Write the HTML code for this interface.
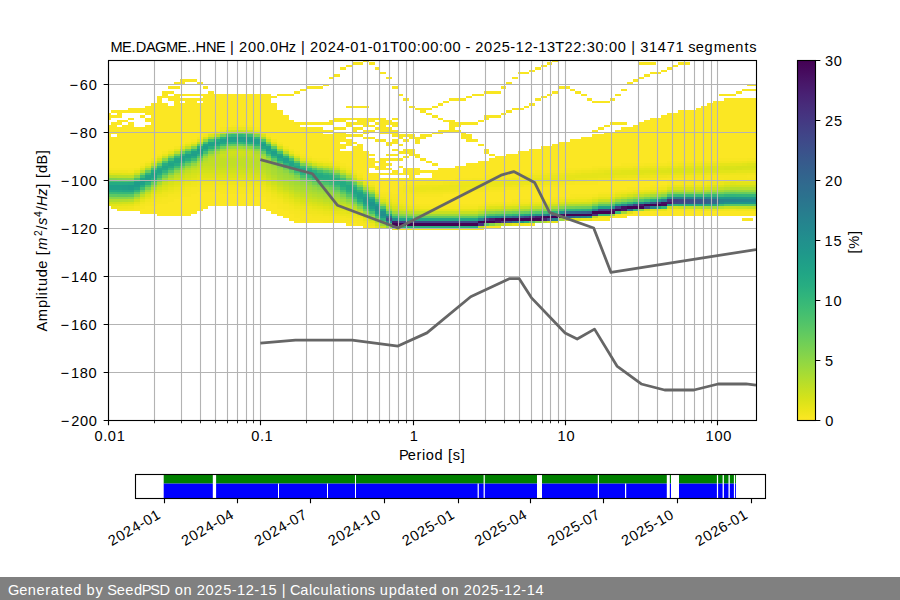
<!DOCTYPE html>
<html><head><meta charset="utf-8"><style>
html,body{margin:0;padding:0;background:#fff;width:900px;height:600px;overflow:hidden}
svg{display:block}
text{font-family:"Liberation Sans", sans-serif;fill:#000}
</style></head><body>
<svg width="900" height="600" viewBox="0 0 900 600">
<g clip-path="url(#axclip)"><g shape-rendering="crispEdges"><path fill="#fbe723" d="M108.00 112.80H110.87V120.00H108.00zM108.00 124.80H110.87V168.00H108.00zM110.87 110.40H116.60V112.80H110.87zM110.87 115.20H116.60V117.60H110.87zM110.87 122.40H116.60V134.40H110.87zM110.87 136.80H116.60V168.00H110.87zM116.60 110.40H122.33V117.60H116.60zM116.60 120.00H122.33V124.80H116.60zM116.60 127.20H122.33V168.00H116.60zM122.33 110.40H128.07V112.80H122.33zM122.33 120.00H128.07V122.40H122.33zM122.33 124.80H128.07V168.00H122.33zM128.07 108.00H133.80V112.80H128.07zM128.07 117.60H133.80V120.00H128.07zM128.07 122.40H133.80V168.00H128.07zM133.80 108.00H139.53V112.80H133.80zM133.80 127.20H139.53V168.00H133.80zM139.53 108.00H145.27V112.80H139.53zM139.53 115.20H145.27V117.60H139.53zM139.53 127.20H145.27V163.20H139.53zM139.53 208.80H145.27V213.60H139.53zM145.27 105.60H151.00V115.20H145.27zM145.27 117.60H151.00V122.40H145.27zM145.27 124.80H151.00V160.80H145.27zM145.27 206.40H151.00V213.60H145.27zM151.00 103.20H156.73V158.40H151.00zM151.00 206.40H156.73V213.60H151.00zM156.73 96.00H162.47V153.60H156.73zM156.73 204.00H162.47V216.00H156.73zM162.47 96.00H168.20V98.40H162.47zM162.47 103.20H168.20V151.20H162.47zM162.47 204.00H168.20V216.00H162.47zM168.20 96.00H173.93V100.80H168.20zM168.20 105.60H173.93V148.80H168.20zM168.20 201.60H173.93V216.00H168.20zM173.93 96.00H179.67V146.40H173.93zM173.93 199.20H179.67V216.00H173.93zM179.67 98.40H185.40V100.80H179.67zM179.67 103.20H185.40V144.00H179.67zM179.67 196.80H185.40V216.00H179.67zM185.40 93.60H191.13V96.00H185.40zM185.40 98.40H191.13V141.60H185.40zM185.40 196.80H191.13V216.00H185.40zM191.13 93.60H196.87V96.00H191.13zM191.13 98.40H196.87V139.20H191.13zM191.13 194.40H196.87V213.60H191.13zM196.87 93.60H202.60V96.00H196.87zM196.87 98.40H202.60V100.80H196.87zM196.87 103.20H202.60V136.80H196.87zM196.87 192.00H202.60V211.20H196.87zM202.60 93.60H208.34V134.40H202.60zM202.60 192.00H208.34V208.80H202.60zM208.34 93.60H214.07V132.00H208.34zM208.34 192.00H214.07V206.40H208.34zM214.07 93.60H219.80V129.60H214.07zM214.07 192.00H219.80V206.40H214.07zM219.80 93.60H225.54V127.20H219.80zM219.80 194.40H225.54V206.40H219.80zM225.54 93.60H231.27V127.20H225.54zM225.54 194.40H231.27V206.40H225.54zM231.27 93.60H237.00V124.80H231.27zM231.27 194.40H237.00V206.40H231.27zM237.00 93.60H242.74V124.80H237.00zM237.00 194.40H242.74V206.40H237.00zM242.74 93.60H248.47V124.80H242.74zM242.74 194.40H248.47V206.40H242.74zM248.47 93.60H254.20V124.80H248.47zM248.47 194.40H254.20V206.40H248.47zM254.20 93.60H259.94V127.20H254.20zM254.20 196.80H259.94V206.40H254.20zM259.94 93.60H265.67V132.00H259.94zM259.94 196.80H265.67V208.80H259.94zM265.67 93.60H271.40V134.40H265.67zM265.67 201.60H271.40V211.20H265.67zM271.40 103.20H277.14V139.20H271.40zM271.40 204.00H277.14V213.60H271.40zM277.14 110.40H282.87V141.60H277.14zM277.14 208.80H282.87V216.00H277.14zM282.87 115.20H288.60V146.40H282.87zM282.87 211.20H288.60V218.40H282.87zM288.60 120.00H294.34V148.80H288.60zM288.60 213.60H294.34V220.80H288.60zM294.34 124.80H300.07V151.20H294.34zM294.34 218.40H300.07V223.20H294.34zM300.07 129.60H305.80V153.60H300.07zM300.07 220.80H305.80V223.20H300.07zM305.80 132.00H311.54V156.00H305.80zM305.80 220.80H311.54V223.20H305.80zM311.54 132.00H317.27V158.40H311.54zM311.54 220.80H317.27V223.20H311.54zM317.27 132.00H323.00V158.40H317.27zM317.27 220.80H323.00V223.20H317.27zM323.00 134.40H328.74V158.40H323.00zM328.74 134.40H334.47V160.80H328.74zM334.47 134.40H340.20V160.80H334.47zM340.20 136.80H345.94V141.60H340.20zM340.20 144.00H345.94V148.80H340.20zM340.20 151.20H345.94V163.20H340.20zM345.94 139.20H351.67V146.40H345.94zM345.94 151.20H351.67V165.60H345.94zM345.94 223.20H351.67V225.60H345.94zM351.67 141.60H357.40V144.00H351.67zM351.67 146.40H357.40V170.40H351.67zM351.67 223.20H357.40V225.60H351.67zM357.40 144.00H363.14V172.80H357.40zM363.14 151.20H368.87V177.60H363.14zM368.87 153.60H374.60V156.00H368.87zM368.87 158.40H374.60V168.00H368.87zM368.87 172.80H374.60V182.40H368.87zM374.60 160.80H380.34V163.20H374.60zM374.60 165.60H380.34V170.40H374.60zM374.60 172.80H380.34V187.20H374.60zM380.34 160.80H386.07V170.40H380.34zM380.34 172.80H386.07V175.20H380.34zM380.34 177.60H386.07V192.00H380.34zM386.07 163.20H391.80V165.60H386.07zM386.07 168.00H391.80V170.40H386.07zM386.07 172.80H391.80V175.20H386.07zM386.07 177.60H391.80V192.00H386.07zM391.80 170.40H397.54V175.20H391.80zM391.80 177.60H397.54V194.40H391.80zM397.54 165.60H403.27V168.00H397.54zM397.54 172.80H403.27V175.20H397.54zM397.54 177.60H403.27V187.20H397.54zM403.27 168.00H409.01V175.20H403.27zM403.27 177.60H409.01V184.80H403.27zM409.01 168.00H414.74V182.40H409.01zM414.74 168.00H420.47V175.20H414.74zM414.74 177.60H420.47V182.40H414.74zM414.74 196.80H420.47V204.00H414.74zM420.47 170.40H426.21V172.80H420.47zM420.47 177.60H426.21V180.00H420.47zM420.47 196.80H426.21V204.00H420.47zM426.21 170.40H431.94V172.80H426.21zM426.21 177.60H431.94V180.00H426.21zM426.21 196.80H431.94V204.00H426.21zM431.94 170.40H437.67V180.00H431.94zM431.94 196.80H437.67V204.00H431.94zM437.67 168.00H443.41V180.00H437.67zM437.67 196.80H443.41V204.00H437.67zM443.41 168.00H449.14V180.00H443.41zM443.41 194.40H449.14V204.00H443.41zM449.14 168.00H454.87V180.00H449.14zM449.14 194.40H454.87V204.00H449.14zM454.87 165.60H460.61V177.60H454.87zM454.87 194.40H460.61V204.00H454.87zM460.61 165.60H466.34V177.60H460.61zM460.61 194.40H466.34V204.00H460.61zM466.34 163.20H472.07V177.60H466.34zM466.34 194.40H472.07V204.00H466.34zM472.07 163.20H477.81V177.60H472.07zM472.07 192.00H477.81V204.00H472.07zM477.81 160.80H483.54V177.60H477.81zM477.81 192.00H483.54V204.00H477.81zM477.81 228.00H483.54V230.40H477.81zM483.54 160.80H489.27V175.20H483.54zM483.54 192.00H489.27V201.60H483.54zM489.27 158.40H495.01V175.20H489.27zM489.27 192.00H495.01V201.60H489.27zM489.27 225.60H495.01V228.00H489.27zM495.01 156.00H500.74V175.20H495.01zM495.01 192.00H500.74V201.60H495.01zM495.01 225.60H500.74V228.00H495.01zM500.74 156.00H506.47V175.20H500.74zM500.74 192.00H506.47V201.60H500.74zM506.47 153.60H512.21V175.20H506.47zM506.47 189.60H512.21V201.60H506.47zM512.21 153.60H517.94V172.80H512.21zM512.21 189.60H517.94V199.20H512.21zM517.94 151.20H523.67V172.80H517.94zM517.94 189.60H523.67V199.20H517.94zM523.67 151.20H529.41V172.80H523.67zM523.67 189.60H529.41V199.20H523.67zM529.41 148.80H535.14V172.80H529.41zM529.41 189.60H535.14V199.20H529.41zM535.14 148.80H540.87V170.40H535.14zM535.14 187.20H540.87V199.20H535.14zM540.87 146.40H546.61V170.40H540.87zM540.87 187.20H546.61V199.20H540.87zM546.61 146.40H552.34V170.40H546.61zM546.61 187.20H552.34V199.20H546.61zM552.34 144.00H558.07V170.40H552.34zM552.34 187.20H558.07V196.80H552.34zM558.07 141.60H563.81V170.40H558.07zM558.07 187.20H563.81V196.80H558.07zM563.81 141.60H569.54V168.00H563.81zM563.81 184.80H569.54V196.80H563.81zM569.54 139.20H575.27V168.00H569.54zM569.54 184.80H575.27V194.40H569.54zM575.27 139.20H581.01V168.00H575.27zM575.27 184.80H581.01V194.40H575.27zM581.01 136.80H586.74V168.00H581.01zM581.01 184.80H586.74V194.40H581.01zM586.74 136.80H592.47V168.00H586.74zM586.74 184.80H592.47V194.40H586.74zM592.47 134.40H598.21V165.60H592.47zM592.47 184.80H598.21V194.40H592.47zM592.47 218.40H598.21V220.80H592.47zM598.21 134.40H603.94V165.60H598.21zM598.21 182.40H603.94V192.00H598.21zM598.21 218.40H603.94V220.80H598.21zM603.94 132.00H609.68V165.60H603.94zM603.94 182.40H609.68V192.00H603.94zM603.94 218.40H609.68V220.80H603.94zM609.68 132.00H615.41V165.60H609.68zM609.68 182.40H615.41V192.00H609.68zM609.68 216.00H615.41V218.40H609.68zM615.41 129.60H621.14V165.60H615.41zM615.41 182.40H621.14V189.60H615.41zM615.41 216.00H621.14V218.40H615.41zM621.14 127.20H626.88V163.20H621.14zM621.14 182.40H626.88V189.60H621.14zM621.14 213.60H626.88V218.40H621.14zM626.88 127.20H632.61V163.20H626.88zM626.88 182.40H632.61V187.20H626.88zM626.88 213.60H632.61V216.00H626.88zM632.61 124.80H638.34V163.20H632.61zM632.61 182.40H638.34V187.20H632.61zM632.61 213.60H638.34V216.00H632.61zM638.34 122.40H644.08V163.20H638.34zM638.34 180.00H644.08V187.20H638.34zM638.34 211.20H644.08V216.00H638.34zM644.08 120.00H649.81V163.20H644.08zM644.08 180.00H649.81V187.20H644.08zM644.08 211.20H649.81V216.00H644.08zM649.81 117.60H655.54V163.20H649.81zM649.81 180.00H655.54V184.80H649.81zM649.81 211.20H655.54V216.00H649.81zM655.54 117.60H661.28V163.20H655.54zM655.54 180.00H661.28V184.80H655.54zM655.54 211.20H661.28V216.00H655.54zM661.28 115.20H667.01V163.20H661.28zM661.28 180.00H667.01V184.80H661.28zM661.28 211.20H667.01V216.00H661.28zM667.01 112.80H672.74V160.80H667.01zM667.01 211.20H672.74V216.00H667.01zM672.74 112.80H678.48V160.80H672.74zM672.74 211.20H678.48V216.00H672.74zM678.48 110.40H684.21V160.80H678.48zM678.48 211.20H684.21V216.00H678.48zM684.21 110.40H689.94V160.80H684.21zM684.21 211.20H689.94V216.00H684.21zM689.94 110.40H695.68V160.80H689.94zM689.94 211.20H695.68V216.00H689.94zM695.68 108.00H701.41V160.80H695.68zM695.68 211.20H701.41V216.00H695.68zM701.41 105.60H707.14V160.80H701.41zM701.41 211.20H707.14V216.00H701.41zM707.14 103.20H712.88V160.80H707.14zM707.14 211.20H712.88V216.00H707.14zM712.88 100.80H718.61V160.80H712.88zM712.88 211.20H718.61V216.00H712.88zM718.61 100.80H724.34V158.40H718.61zM718.61 211.20H724.34V216.00H718.61zM724.34 98.40H730.08V158.40H724.34zM724.34 211.20H730.08V216.00H724.34zM730.08 98.40H735.81V158.40H730.08zM730.08 211.20H735.81V216.00H730.08zM735.81 98.40H741.54V158.40H735.81zM735.81 211.20H741.54V216.00H735.81zM741.54 98.40H747.28V158.40H741.54zM741.54 211.20H747.28V216.00H741.54zM747.28 98.40H753.01V158.40H747.28zM747.28 211.20H753.01V216.00H747.28zM753.01 98.40H756.00V158.40H753.01zM753.01 211.20H756.00V216.00H753.01z"/><path fill="#f8e621" d="M108.00 168.00H110.87V170.40H108.00zM110.87 168.00H116.60V170.40H110.87zM116.60 168.00H122.33V170.40H116.60zM122.33 168.00H128.07V170.40H122.33zM128.07 168.00H133.80V170.40H128.07zM133.80 208.80H139.53V211.20H133.80zM139.53 163.20H145.27V165.60H139.53zM139.53 206.40H145.27V208.80H139.53zM145.27 160.80H151.00V163.20H145.27zM145.27 204.00H151.00V206.40H145.27zM151.00 201.60H156.73V206.40H151.00zM156.73 153.60H162.47V156.00H156.73zM156.73 201.60H162.47V204.00H156.73zM162.47 91.20H168.20V96.00H162.47zM162.47 199.20H168.20V204.00H162.47zM168.20 86.40H173.93V88.80H168.20zM168.20 91.20H173.93V93.60H168.20zM168.20 196.80H173.93V201.60H168.20zM173.93 81.60H179.67V84.00H173.93zM173.93 86.40H179.67V88.80H173.93zM173.93 93.60H179.67V96.00H173.93zM173.93 196.80H179.67V199.20H173.93zM179.67 79.20H185.40V84.00H179.67zM179.67 93.60H185.40V96.00H179.67zM179.67 194.40H185.40V196.80H179.67zM185.40 79.20H191.13V81.60H185.40zM185.40 192.00H191.13V196.80H185.40zM191.13 79.20H196.87V81.60H191.13zM191.13 139.20H196.87V141.60H191.13zM191.13 189.60H196.87V194.40H191.13zM196.87 81.60H202.60V84.00H196.87zM196.87 189.60H202.60V192.00H196.87zM202.60 86.40H208.34V88.80H202.60zM202.60 189.60H208.34V192.00H202.60zM208.34 91.20H214.07V93.60H208.34zM208.34 189.60H214.07V192.00H208.34zM214.07 129.60H219.80V132.00H214.07zM214.07 189.60H219.80V192.00H214.07zM219.80 127.20H225.54V129.60H219.80zM219.80 189.60H225.54V194.40H219.80zM225.54 189.60H231.27V194.40H225.54zM231.27 124.80H237.00V127.20H231.27zM231.27 189.60H237.00V194.40H231.27zM237.00 124.80H242.74V127.20H237.00zM237.00 189.60H242.74V194.40H237.00zM242.74 124.80H248.47V127.20H242.74zM242.74 189.60H248.47V194.40H242.74zM248.47 124.80H254.20V127.20H248.47zM248.47 192.00H254.20V194.40H248.47zM254.20 127.20H259.94V129.60H254.20zM254.20 192.00H259.94V196.80H254.20zM259.94 194.40H265.67V196.80H259.94zM265.67 134.40H271.40V136.80H265.67zM265.67 196.80H271.40V201.60H265.67zM271.40 96.00H277.14V98.40H271.40zM271.40 201.60H277.14V204.00H271.40zM277.14 93.60H282.87V96.00H277.14zM277.14 141.60H282.87V144.00H277.14zM277.14 204.00H282.87V208.80H277.14zM282.87 93.60H288.60V96.00H282.87zM282.87 208.80H288.60V211.20H282.87zM288.60 93.60H294.34V96.00H288.60zM288.60 211.20H294.34V213.60H288.60zM294.34 91.20H300.07V93.60H294.34zM294.34 122.40H300.07V124.80H294.34zM294.34 151.20H300.07V153.60H294.34zM294.34 213.60H300.07V218.40H294.34zM300.07 88.80H305.80V91.20H300.07zM300.07 122.40H305.80V124.80H300.07zM300.07 127.20H305.80V129.60H300.07zM300.07 153.60H305.80V156.00H300.07zM300.07 216.00H305.80V220.80H300.07zM305.80 86.40H311.54V88.80H305.80zM305.80 122.40H311.54V124.80H305.80zM305.80 127.20H311.54V132.00H305.80zM305.80 156.00H311.54V158.40H305.80zM305.80 216.00H311.54V220.80H305.80zM311.54 86.40H317.27V88.80H311.54zM311.54 122.40H317.27V124.80H311.54zM311.54 127.20H317.27V132.00H311.54zM311.54 218.40H317.27V220.80H311.54zM317.27 86.40H323.00V88.80H317.27zM317.27 122.40H323.00V124.80H317.27zM317.27 127.20H323.00V132.00H317.27zM317.27 158.40H323.00V160.80H317.27zM317.27 218.40H323.00V220.80H317.27zM323.00 84.00H328.74V86.40H323.00zM323.00 122.40H328.74V124.80H323.00zM323.00 129.60H328.74V132.00H323.00zM323.00 158.40H328.74V160.80H323.00zM323.00 218.40H328.74V223.20H323.00zM328.74 76.80H334.47V79.20H328.74zM328.74 120.00H334.47V124.80H328.74zM328.74 129.60H334.47V132.00H328.74zM328.74 220.80H334.47V223.20H328.74zM334.47 74.40H340.20V76.80H334.47zM334.47 117.60H340.20V122.40H334.47zM334.47 127.20H340.20V129.60H334.47zM334.47 132.00H340.20V134.40H334.47zM334.47 160.80H340.20V163.20H334.47zM334.47 220.80H340.20V223.20H334.47zM340.20 67.20H345.94V69.60H340.20zM340.20 117.60H345.94V122.40H340.20zM340.20 127.20H345.94V129.60H340.20zM340.20 132.00H345.94V136.80H340.20zM340.20 163.20H345.94V165.60H340.20zM340.20 220.80H345.94V223.20H340.20zM345.94 64.80H351.67V67.20H345.94zM345.94 105.60H351.67V108.00H345.94zM345.94 117.60H351.67V120.00H345.94zM345.94 122.40H351.67V127.20H345.94zM345.94 134.40H351.67V136.80H345.94zM345.94 165.60H351.67V168.00H345.94zM345.94 220.80H351.67V223.20H345.94zM351.67 62.40H357.40V64.80H351.67zM351.67 105.60H357.40V108.00H351.67zM351.67 117.60H357.40V120.00H351.67zM351.67 122.40H357.40V124.80H351.67zM351.67 127.20H357.40V132.00H351.67zM351.67 134.40H357.40V136.80H351.67zM351.67 220.80H357.40V223.20H351.67zM357.40 62.40H363.14V64.80H357.40zM357.40 105.60H363.14V108.00H357.40zM357.40 117.60H363.14V124.80H357.40zM357.40 127.20H363.14V129.60H357.40zM357.40 134.40H363.14V136.80H357.40zM357.40 172.80H363.14V175.20H357.40zM357.40 223.20H363.14V225.60H357.40zM363.14 60.00H368.87V62.40H363.14zM363.14 105.60H368.87V108.00H363.14zM363.14 117.60H368.87V127.20H363.14zM363.14 129.60H368.87V134.40H363.14zM363.14 136.80H368.87V139.20H363.14zM363.14 177.60H368.87V180.00H363.14zM363.14 225.60H368.87V228.00H363.14zM368.87 62.40H374.60V64.80H368.87zM368.87 117.60H374.60V122.40H368.87zM368.87 124.80H374.60V127.20H368.87zM368.87 129.60H374.60V132.00H368.87zM368.87 136.80H374.60V139.20H368.87zM374.60 67.20H380.34V69.60H374.60zM374.60 117.60H380.34V120.00H374.60zM374.60 122.40H380.34V124.80H374.60zM374.60 127.20H380.34V129.60H374.60zM374.60 139.20H380.34V141.60H374.60zM374.60 187.20H380.34V189.60H374.60zM380.34 72.00H386.07V74.40H380.34zM380.34 117.60H386.07V134.40H380.34zM380.34 139.20H386.07V141.60H380.34zM380.34 158.40H386.07V160.80H380.34zM380.34 192.00H386.07V194.40H380.34zM386.07 76.80H391.80V79.20H386.07zM386.07 120.00H391.80V124.80H386.07zM386.07 127.20H391.80V134.40H386.07zM386.07 141.60H391.80V146.40H386.07zM386.07 153.60H391.80V156.00H386.07zM386.07 158.40H391.80V160.80H386.07zM386.07 192.00H391.80V194.40H386.07zM391.80 86.40H397.54V88.80H391.80zM391.80 117.60H397.54V120.00H391.80zM391.80 122.40H397.54V127.20H391.80zM391.80 129.60H397.54V136.80H391.80zM391.80 139.20H397.54V144.00H391.80zM391.80 148.80H397.54V151.20H391.80zM391.80 153.60H397.54V156.00H391.80zM391.80 158.40H397.54V160.80H391.80zM391.80 194.40H397.54V196.80H391.80zM397.54 93.60H403.27V96.00H397.54zM397.54 134.40H403.27V139.20H397.54zM397.54 144.00H403.27V146.40H397.54zM397.54 151.20H403.27V153.60H397.54zM397.54 158.40H403.27V160.80H397.54zM397.54 187.20H403.27V199.20H397.54zM403.27 98.40H409.01V100.80H403.27zM403.27 134.40H409.01V136.80H403.27zM403.27 139.20H409.01V141.60H403.27zM403.27 148.80H409.01V153.60H403.27zM403.27 156.00H409.01V158.40H403.27zM403.27 194.40H409.01V201.60H403.27zM409.01 105.60H414.74V108.00H409.01zM409.01 134.40H414.74V139.20H409.01zM409.01 148.80H414.74V156.00H409.01zM409.01 182.40H414.74V184.80H409.01zM409.01 194.40H414.74V204.00H409.01zM414.74 108.00H420.47V110.40H414.74zM414.74 136.80H420.47V144.00H414.74zM414.74 153.60H420.47V158.40H414.74zM414.74 194.40H420.47V196.80H414.74zM420.47 108.00H426.21V112.80H420.47zM420.47 134.40H426.21V139.20H420.47zM420.47 158.40H426.21V160.80H420.47zM420.47 180.00H426.21V182.40H420.47zM420.47 194.40H426.21V196.80H420.47zM420.47 204.00H426.21V206.40H420.47zM426.21 108.00H431.94V110.40H426.21zM426.21 112.80H431.94V115.20H426.21zM426.21 134.40H431.94V136.80H426.21zM426.21 160.80H431.94V163.20H426.21zM426.21 180.00H431.94V182.40H426.21zM426.21 194.40H431.94V196.80H426.21zM426.21 204.00H431.94V206.40H426.21zM431.94 105.60H437.67V108.00H431.94zM431.94 115.20H437.67V117.60H431.94zM431.94 132.00H437.67V134.40H431.94zM431.94 163.20H437.67V165.60H431.94zM431.94 180.00H437.67V182.40H431.94zM431.94 194.40H437.67V196.80H431.94zM431.94 204.00H437.67V206.40H431.94zM437.67 103.20H443.41V105.60H437.67zM437.67 117.60H443.41V120.00H437.67zM437.67 129.60H443.41V134.40H437.67zM437.67 180.00H443.41V182.40H437.67zM437.67 194.40H443.41V196.80H437.67zM437.67 204.00H443.41V206.40H437.67zM443.41 100.80H449.14V103.20H443.41zM443.41 120.00H449.14V122.40H443.41zM443.41 129.60H449.14V132.00H443.41zM443.41 204.00H449.14V206.40H443.41zM449.14 98.40H454.87V100.80H449.14zM449.14 120.00H454.87V132.00H449.14zM449.14 204.00H454.87V206.40H449.14zM454.87 98.40H460.61V100.80H454.87zM454.87 122.40H460.61V127.20H454.87zM454.87 129.60H460.61V132.00H454.87zM454.87 177.60H460.61V180.00H454.87zM454.87 192.00H460.61V194.40H454.87zM454.87 204.00H460.61V206.40H454.87zM460.61 98.40H466.34V100.80H460.61zM460.61 122.40H466.34V124.80H460.61zM460.61 132.00H466.34V139.20H460.61zM460.61 177.60H466.34V180.00H460.61zM460.61 192.00H466.34V194.40H460.61zM460.61 204.00H466.34V206.40H460.61zM466.34 96.00H472.07V98.40H466.34zM466.34 122.40H472.07V124.80H466.34zM466.34 134.40H472.07V141.60H466.34zM466.34 177.60H472.07V180.00H466.34zM466.34 192.00H472.07V194.40H466.34zM466.34 204.00H472.07V206.40H466.34zM472.07 93.60H477.81V96.00H472.07zM472.07 122.40H477.81V124.80H472.07zM472.07 139.20H477.81V141.60H472.07zM472.07 204.00H477.81V206.40H472.07zM477.81 93.60H483.54V96.00H477.81zM477.81 120.00H483.54V122.40H477.81zM477.81 144.00H483.54V146.40H477.81zM483.54 91.20H489.27V93.60H483.54zM483.54 115.20H489.27V120.00H483.54zM483.54 148.80H489.27V153.60H483.54zM483.54 175.20H489.27V177.60H483.54zM483.54 189.60H489.27V192.00H483.54zM483.54 201.60H489.27V204.00H483.54zM483.54 225.60H489.27V228.00H483.54zM489.27 91.20H495.01V93.60H489.27zM489.27 115.20H495.01V117.60H489.27zM489.27 153.60H495.01V156.00H489.27zM489.27 175.20H495.01V177.60H489.27zM489.27 189.60H495.01V192.00H489.27zM489.27 201.60H495.01V204.00H489.27zM495.01 91.20H500.74V93.60H495.01zM495.01 115.20H500.74V117.60H495.01zM495.01 175.20H500.74V177.60H495.01zM495.01 189.60H500.74V192.00H495.01zM500.74 86.40H506.47V88.80H500.74zM500.74 112.80H506.47V115.20H500.74zM500.74 189.60H506.47V192.00H500.74zM506.47 81.60H512.21V84.00H506.47zM506.47 110.40H512.21V112.80H506.47zM512.21 76.80H517.94V79.20H512.21zM512.21 108.00H517.94V110.40H512.21zM512.21 172.80H517.94V175.20H512.21zM512.21 199.20H517.94V201.60H512.21zM517.94 72.00H523.67V74.40H517.94zM517.94 108.00H523.67V110.40H517.94zM517.94 172.80H523.67V175.20H517.94zM517.94 187.20H523.67V189.60H517.94zM517.94 199.20H523.67V201.60H517.94zM523.67 72.00H529.41V74.40H523.67zM523.67 105.60H529.41V108.00H523.67zM523.67 172.80H529.41V175.20H523.67zM523.67 187.20H529.41V189.60H523.67zM523.67 199.20H529.41V201.60H523.67zM529.41 69.60H535.14V72.00H529.41zM529.41 103.20H535.14V105.60H529.41zM529.41 187.20H535.14V189.60H529.41zM529.41 199.20H535.14V201.60H529.41zM529.41 223.20H535.14V225.60H529.41zM535.14 67.20H540.87V69.60H535.14zM535.14 98.40H540.87V100.80H535.14zM535.14 170.40H540.87V172.80H535.14zM535.14 199.20H540.87V201.60H535.14zM540.87 64.80H546.61V67.20H540.87zM540.87 96.00H546.61V98.40H540.87zM540.87 170.40H546.61V172.80H540.87zM546.61 62.40H552.34V64.80H546.61zM546.61 93.60H552.34V96.00H546.61zM546.61 170.40H552.34V172.80H546.61zM546.61 184.80H552.34V187.20H546.61zM552.34 60.00H558.07V62.40H552.34zM552.34 91.20H558.07V93.60H552.34zM552.34 184.80H558.07V187.20H552.34zM552.34 196.80H558.07V199.20H552.34zM558.07 86.40H563.81V88.80H558.07zM558.07 184.80H563.81V187.20H558.07zM563.81 86.40H569.54V88.80H563.81zM563.81 168.00H569.54V170.40H563.81zM569.54 88.80H575.27V91.20H569.54zM569.54 168.00H575.27V170.40H569.54zM569.54 194.40H575.27V196.80H569.54zM575.27 91.20H581.01V93.60H575.27zM575.27 168.00H581.01V170.40H575.27zM575.27 182.40H581.01V184.80H575.27zM575.27 194.40H581.01V196.80H575.27zM581.01 93.60H586.74V96.00H581.01zM581.01 182.40H586.74V184.80H581.01zM581.01 194.40H586.74V196.80H581.01zM586.74 98.40H592.47V100.80H586.74zM586.74 182.40H592.47V184.80H586.74zM586.74 194.40H592.47V196.80H586.74zM592.47 100.80H598.21V103.20H592.47zM592.47 129.60H598.21V132.00H592.47zM592.47 165.60H598.21V168.00H592.47zM592.47 182.40H598.21V184.80H592.47zM598.21 100.80H603.94V103.20H598.21zM598.21 127.20H603.94V129.60H598.21zM598.21 165.60H603.94V168.00H598.21zM598.21 192.00H603.94V194.40H598.21zM603.94 100.80H609.68V103.20H603.94zM603.94 124.80H609.68V127.20H603.94zM603.94 165.60H609.68V168.00H603.94zM603.94 192.00H609.68V194.40H603.94zM609.68 98.40H615.41V100.80H609.68zM609.68 122.40H615.41V124.80H609.68zM609.68 180.00H615.41V182.40H609.68zM609.68 192.00H615.41V194.40H609.68zM615.41 93.60H621.14V96.00H615.41zM615.41 122.40H621.14V124.80H615.41zM615.41 180.00H621.14V182.40H615.41zM615.41 189.60H621.14V192.00H615.41zM621.14 88.80H626.88V91.20H621.14zM621.14 122.40H626.88V124.80H621.14zM621.14 163.20H626.88V165.60H621.14zM621.14 180.00H626.88V182.40H621.14zM626.88 81.60H632.61V84.00H626.88zM626.88 163.20H632.61V165.60H626.88zM626.88 180.00H632.61V182.40H626.88zM626.88 187.20H632.61V189.60H626.88zM632.61 79.20H638.34V81.60H632.61zM632.61 163.20H638.34V165.60H632.61zM632.61 180.00H638.34V182.40H632.61zM632.61 187.20H638.34V189.60H632.61zM638.34 62.40H644.08V64.80H638.34zM638.34 76.80H644.08V79.20H638.34zM638.34 163.20H644.08V165.60H638.34zM638.34 187.20H644.08V189.60H638.34zM644.08 62.40H649.81V64.80H644.08zM644.08 74.40H649.81V76.80H644.08zM649.81 62.40H655.54V64.80H649.81zM649.81 72.00H655.54V74.40H649.81zM649.81 184.80H655.54V187.20H649.81zM655.54 72.00H661.28V74.40H655.54zM655.54 184.80H661.28V187.20H655.54zM661.28 69.60H667.01V72.00H661.28zM661.28 177.60H667.01V180.00H661.28zM667.01 67.20H672.74V69.60H667.01zM667.01 160.80H672.74V163.20H667.01zM667.01 177.60H672.74V182.40H667.01zM667.01 208.80H672.74V211.20H667.01zM672.74 64.80H678.48V67.20H672.74zM672.74 160.80H678.48V163.20H672.74zM672.74 177.60H678.48V182.40H672.74zM672.74 208.80H678.48V211.20H672.74zM678.48 62.40H684.21V64.80H678.48zM678.48 160.80H684.21V163.20H678.48zM678.48 177.60H684.21V182.40H678.48zM678.48 208.80H684.21V211.20H678.48zM684.21 62.40H689.94V64.80H684.21zM684.21 160.80H689.94V163.20H684.21zM684.21 177.60H689.94V182.40H684.21zM689.94 160.80H695.68V163.20H689.94zM689.94 177.60H695.68V182.40H689.94zM695.68 177.60H701.41V182.40H695.68zM701.41 177.60H707.14V182.40H701.41zM707.14 177.60H712.88V180.00H707.14zM712.88 177.60H718.61V180.00H712.88zM718.61 93.60H724.34V96.00H718.61zM718.61 158.40H724.34V160.80H718.61zM724.34 93.60H730.08V96.00H724.34zM724.34 158.40H730.08V160.80H724.34zM730.08 93.60H735.81V96.00H730.08zM730.08 158.40H735.81V160.80H730.08zM735.81 91.20H741.54V93.60H735.81zM735.81 158.40H741.54V160.80H735.81zM741.54 88.80H747.28V91.20H741.54zM741.54 158.40H747.28V160.80H741.54zM741.54 218.40H747.28V220.80H741.54zM747.28 84.00H753.01V86.40H747.28zM747.28 88.80H753.01V91.20H747.28zM747.28 218.40H753.01V220.80H747.28zM753.01 84.00H756.00V86.40H753.01zM753.01 88.80H756.00V91.20H753.01z"/><path fill="#efe51c" d="M108.00 170.40H110.87V172.80H108.00zM116.60 206.40H122.33V208.80H116.60zM122.33 206.40H128.07V208.80H122.33zM133.80 204.00H139.53V206.40H133.80zM151.00 196.80H156.73V199.20H151.00zM156.73 156.00H162.47V158.40H156.73zM156.73 194.40H162.47V196.80H156.73zM162.47 192.00H168.20V194.40H162.47zM179.67 187.20H185.40V189.60H179.67zM185.40 184.80H191.13V187.20H185.40zM191.13 182.40H196.87V184.80H191.13zM219.80 129.60H225.54V132.00H219.80zM219.80 182.40H225.54V184.80H219.80zM225.54 182.40H231.27V184.80H225.54zM231.27 127.20H237.00V129.60H231.27zM231.27 182.40H237.00V184.80H231.27zM237.00 182.40H242.74V184.80H237.00zM242.74 182.40H248.47V184.80H242.74zM248.47 127.20H254.20V129.60H248.47zM265.67 189.60H271.40V192.00H265.67zM277.14 144.00H282.87V146.40H277.14zM277.14 196.80H282.87V199.20H277.14zM294.34 206.40H300.07V208.80H294.34zM305.80 158.40H311.54V160.80H305.80zM305.80 208.80H311.54V211.20H305.80zM317.27 211.20H323.00V213.60H317.27zM328.74 213.60H334.47V216.00H328.74zM334.47 213.60H340.20V216.00H334.47zM351.67 172.80H357.40V175.20H351.67zM368.87 184.80H374.60V187.20H368.87zM391.80 201.60H397.54V204.00H391.80zM414.74 189.60H420.47V192.00H414.74zM420.47 184.80H426.21V187.20H420.47zM426.21 184.80H431.94V187.20H426.21zM426.21 189.60H431.94V192.00H426.21zM431.94 184.80H437.67V187.20H431.94zM431.94 189.60H437.67V192.00H431.94zM437.67 189.60H443.41V192.00H437.67zM443.41 189.60H449.14V192.00H443.41zM449.14 182.40H454.87V184.80H449.14zM454.87 182.40H460.61V184.80H454.87zM466.34 187.20H472.07V189.60H466.34zM472.07 187.20H477.81V189.60H472.07zM477.81 180.00H483.54V182.40H477.81zM483.54 180.00H489.27V182.40H483.54zM489.27 204.00H495.01V206.40H489.27zM495.01 204.00H500.74V206.40H495.01zM500.74 184.80H506.47V187.20H500.74zM506.47 177.60H512.21V180.00H506.47zM506.47 184.80H512.21V187.20H506.47zM517.94 223.20H523.67V225.60H517.94zM529.41 175.20H535.14V177.60H529.41zM529.41 182.40H535.14V184.80H529.41zM535.14 175.20H540.87V177.60H535.14zM535.14 182.40H540.87V184.80H535.14zM535.14 201.60H540.87V204.00H535.14zM540.87 201.60H546.61V204.00H540.87zM558.07 172.80H563.81V175.20H558.07zM558.07 199.20H563.81V201.60H558.07zM563.81 180.00H569.54V182.40H563.81zM569.54 180.00H575.27V182.40H569.54zM581.01 170.40H586.74V172.80H581.01zM586.74 170.40H592.47V172.80H586.74zM598.21 177.60H603.94V180.00H598.21zM603.94 177.60H609.68V180.00H603.94zM609.68 168.00H615.41V170.40H609.68zM609.68 194.40H615.41V196.80H609.68zM621.14 192.00H626.88V194.40H621.14zM638.34 189.60H644.08V192.00H638.34zM644.08 165.60H649.81V168.00H644.08zM649.81 165.60H655.54V168.00H649.81zM649.81 175.20H655.54V177.60H649.81zM655.54 175.20H661.28V177.60H655.54zM661.28 175.20H667.01V177.60H661.28zM661.28 187.20H667.01V189.60H661.28zM667.01 184.80H672.74V187.20H667.01zM689.94 163.20H695.68V165.60H689.94zM695.68 163.20H701.41V165.60H695.68zM707.14 208.80H712.88V211.20H707.14zM712.88 182.40H718.61V184.80H712.88zM718.61 208.80H724.34V211.20H718.61zM724.34 180.00H730.08V182.40H724.34zM730.08 172.80H735.81V175.20H730.08zM735.81 172.80H741.54V175.20H735.81zM741.54 160.80H747.28V163.20H741.54zM741.54 172.80H747.28V175.20H741.54zM753.01 208.80H756.00V211.20H753.01z"/><path fill="#dde318" d="M108.00 172.80H110.87V175.20H108.00zM139.53 168.00H145.27V170.40H139.53zM179.67 180.00H185.40V182.40H179.67zM185.40 177.60H191.13V180.00H185.40zM225.54 175.20H231.27V177.60H225.54zM231.27 175.20H237.00V177.60H231.27zM237.00 175.20H242.74V177.60H237.00zM242.74 175.20H248.47V177.60H242.74zM294.34 199.20H300.07V201.60H294.34zM300.07 201.60H305.80V204.00H300.07zM311.54 204.00H317.27V206.40H311.54zM317.27 163.20H323.00V165.60H317.27zM323.00 206.40H328.74V208.80H323.00zM340.20 208.80H345.94V211.20H340.20zM351.67 211.20H357.40V213.60H351.67zM368.87 187.20H374.60V189.60H368.87zM380.34 199.20H386.07V201.60H380.34zM409.01 208.80H414.74V211.20H409.01zM495.01 206.40H500.74V208.80H495.01zM558.07 201.60H563.81V204.00H558.07zM609.68 196.80H615.41V199.20H609.68zM621.14 194.40H626.88V196.80H621.14zM638.34 192.00H644.08V194.40H638.34zM661.28 170.40H667.01V172.80H661.28zM661.28 189.60H667.01V192.00H661.28zM667.01 170.40H672.74V172.80H667.01zM672.74 170.40H678.48V172.80H672.74zM678.48 168.00H684.21V172.80H678.48zM684.21 168.00H689.94V172.80H684.21zM689.94 168.00H695.68V170.40H689.94zM695.68 187.20H701.41V189.60H695.68zM712.88 165.60H718.61V168.00H712.88zM718.61 165.60H724.34V168.00H718.61zM753.01 163.20H756.00V165.60H753.01z"/><path fill="#b8de29" d="M108.00 175.20H110.87V177.60H108.00zM162.47 180.00H168.20V182.40H162.47zM208.34 156.00H214.07V158.40H208.34zM254.20 160.80H259.94V163.20H254.20zM282.87 151.20H288.60V153.60H282.87zM294.34 189.60H300.07V192.00H294.34zM328.74 199.20H334.47V201.60H328.74zM351.67 206.40H357.40V208.80H351.67zM363.14 213.60H368.87V216.00H363.14zM403.27 211.20H409.01V213.60H403.27zM540.87 206.40H546.61V208.80H540.87zM695.68 206.40H701.41V208.80H695.68zM701.41 189.60H707.14V192.00H701.41zM741.54 187.20H747.28V189.60H741.54zM747.28 187.20H753.01V189.60H747.28zM753.01 187.20H756.00V189.60H753.01z"/><path fill="#7fd34e" d="M108.00 177.60H110.87V180.00H108.00zM242.74 132.00H248.47V134.40H242.74zM254.20 134.40H259.94V136.80H254.20zM294.34 175.20H300.07V177.60H294.34zM357.40 184.80H363.14V187.20H357.40zM374.60 218.40H380.34V220.80H374.60zM489.27 223.20H495.01V225.60H489.27zM500.74 211.20H506.47V213.60H500.74z"/><path fill="#44bf70" d="M108.00 180.00H110.87V182.40H108.00zM185.40 160.80H191.13V163.20H185.40zM202.60 151.20H208.34V153.60H202.60zM288.60 168.00H294.34V170.40H288.60zM540.87 211.20H546.61V213.60H540.87z"/><path fill="#25ab82" d="M108.00 182.40H110.87V184.80H108.00zM110.87 182.40H116.60V184.80H110.87zM110.87 189.60H116.60V192.00H110.87zM122.33 182.40H128.07V184.80H122.33zM168.20 165.60H173.93V168.00H168.20zM214.07 139.20H219.80V141.60H214.07zM214.07 144.00H219.80V146.40H214.07zM294.34 168.00H300.07V170.40H294.34zM311.54 175.20H317.27V177.60H311.54zM340.20 182.40H345.94V184.80H340.20zM351.67 187.20H357.40V189.60H351.67zM701.41 204.00H707.14V206.40H701.41zM707.14 204.00H712.88V206.40H707.14zM712.88 204.00H718.61V206.40H712.88z"/><path fill="#1fa088" d="M108.00 184.80H110.87V187.20H108.00zM110.87 184.80H116.60V187.20H110.87zM139.53 182.40H145.27V184.80H139.53zM202.60 146.40H208.34V148.80H202.60zM214.07 141.60H219.80V144.00H214.07zM248.47 136.80H254.20V139.20H248.47zM357.40 194.40H363.14V196.80H357.40zM368.87 199.20H374.60V201.60H368.87z"/><path fill="#1fa187" d="M108.00 187.20H110.87V189.60H108.00zM110.87 187.20H116.60V189.60H110.87zM151.00 172.80H156.73V175.20H151.00zM185.40 153.60H191.13V156.00H185.40zM225.54 136.80H231.27V141.60H225.54zM231.27 139.20H237.00V141.60H231.27zM237.00 139.20H242.74V141.60H237.00zM265.67 146.40H271.40V148.80H265.67zM282.87 158.40H288.60V160.80H282.87zM391.80 225.60H397.54V228.00H391.80zM655.54 206.40H661.28V208.80H655.54z"/><path fill="#25ac82" d="M108.00 189.60H110.87V192.00H108.00zM116.60 182.40H122.33V184.80H116.60zM133.80 180.00H139.53V182.40H133.80zM151.00 170.40H156.73V172.80H151.00zM202.60 148.80H208.34V151.20H202.60zM323.00 175.20H328.74V177.60H323.00zM363.14 204.00H368.87V206.40H363.14zM695.68 204.00H701.41V206.40H695.68z"/><path fill="#3bbb75" d="M108.00 192.00H110.87V194.40H108.00zM139.53 175.20H145.27V177.60H139.53zM156.73 175.20H162.47V177.60H156.73zM248.47 134.40H254.20V136.80H248.47zM277.14 160.80H282.87V163.20H277.14zM334.47 184.80H340.20V187.20H334.47zM644.08 199.20H649.81V201.60H644.08zM678.48 194.40H684.21V196.80H678.48zM684.21 194.40H689.94V196.80H684.21zM689.94 194.40H695.68V196.80H689.94zM695.68 194.40H701.41V196.80H695.68z"/><path fill="#60ca60" d="M108.00 194.40H110.87V196.80H108.00zM340.20 192.00H345.94V194.40H340.20zM374.60 199.20H380.34V201.60H374.60zM380.34 220.80H386.07V223.20H380.34zM420.47 216.00H426.21V218.40H420.47zM426.21 216.00H431.94V218.40H426.21zM431.94 216.00H437.67V218.40H431.94zM437.67 216.00H443.41V218.40H437.67zM443.41 216.00H449.14V218.40H443.41zM449.14 216.00H454.87V218.40H449.14zM454.87 216.00H460.61V218.40H454.87zM460.61 216.00H466.34V218.40H460.61zM466.34 216.00H472.07V218.40H466.34zM472.07 216.00H477.81V218.40H472.07zM632.61 199.20H638.34V201.60H632.61z"/><path fill="#8bd646" d="M108.00 196.80H110.87V199.20H108.00zM128.07 196.80H133.80V199.20H128.07zM248.47 132.00H254.20V134.40H248.47zM248.47 146.40H254.20V148.80H248.47zM254.20 148.80H259.94V151.20H254.20zM288.60 156.00H294.34V158.40H288.60zM317.27 187.20H323.00V189.60H317.27zM403.27 213.60H409.01V216.00H403.27zM638.34 196.80H644.08V199.20H638.34zM638.34 208.80H644.08V211.20H638.34zM695.68 192.00H701.41V194.40H695.68z"/><path fill="#b2dd2d" d="M108.00 199.20H110.87V201.60H108.00zM122.33 199.20H128.07V201.60H122.33zM133.80 196.80H139.53V199.20H133.80zM179.67 170.40H185.40V172.80H179.67zM185.40 168.00H191.13V170.40H185.40zM259.94 160.80H265.67V165.60H259.94zM288.60 184.80H294.34V187.20H288.60zM305.80 192.00H311.54V194.40H305.80zM323.00 196.80H328.74V199.20H323.00zM334.47 199.20H340.20V201.60H334.47zM397.54 211.20H403.27V213.60H397.54zM644.08 194.40H649.81V196.80H644.08z"/><path fill="#d0e11c" d="M108.00 201.60H110.87V204.00H108.00zM116.60 201.60H122.33V204.00H116.60zM133.80 199.20H139.53V201.60H133.80zM151.00 189.60H156.73V192.00H151.00zM219.80 170.40H225.54V172.80H219.80zM225.54 170.40H231.27V172.80H225.54zM231.27 151.20H237.00V153.60H231.27zM231.27 170.40H237.00V172.80H231.27zM237.00 151.20H242.74V153.60H237.00zM237.00 170.40H242.74V172.80H237.00zM248.47 129.60H254.20V132.00H248.47zM254.20 172.80H259.94V175.20H254.20zM259.94 175.20H265.67V177.60H259.94zM282.87 189.60H288.60V192.00H282.87zM305.80 199.20H311.54V201.60H305.80zM317.27 201.60H323.00V204.00H317.27zM334.47 168.00H340.20V170.40H334.47zM340.20 170.40H345.94V172.80H340.20zM552.34 204.00H558.07V206.40H552.34zM581.01 201.60H586.74V204.00H581.01zM586.74 201.60H592.47V204.00H586.74zM649.81 192.00H655.54V194.40H649.81zM730.08 184.80H735.81V187.20H730.08zM735.81 184.80H741.54V187.20H735.81zM741.54 184.80H747.28V187.20H741.54zM747.28 184.80H753.01V187.20H747.28zM753.01 184.80H756.00V187.20H753.01z"/><path fill="#e2e418" d="M108.00 204.00H110.87V206.40H108.00zM110.87 204.00H116.60V206.40H110.87zM116.60 204.00H122.33V206.40H116.60zM122.33 172.80H128.07V175.20H122.33zM128.07 172.80H133.80V175.20H128.07zM179.67 146.40H185.40V148.80H179.67zM191.13 177.60H196.87V180.00H191.13zM196.87 175.20H202.60V177.60H196.87zM242.74 177.60H248.47V180.00H242.74zM248.47 177.60H254.20V180.00H248.47zM265.67 184.80H271.40V187.20H265.67zM271.40 141.60H277.14V144.00H271.40zM277.14 192.00H282.87V194.40H277.14zM282.87 148.80H288.60V151.20H282.87zM282.87 194.40H288.60V196.80H282.87zM305.80 204.00H311.54V206.40H305.80zM317.27 206.40H323.00V208.80H317.27zM328.74 208.80H334.47V211.20H328.74zM345.94 211.20H351.67V213.60H345.94zM386.07 201.60H391.80V204.00H386.07zM391.80 228.00H397.54V230.40H391.80zM397.54 206.40H403.27V208.80H397.54zM414.74 208.80H420.47V211.20H414.74zM483.54 206.40H489.27V208.80H483.54zM529.41 204.00H535.14V206.40H529.41zM603.94 172.80H609.68V175.20H603.94zM609.68 172.80H615.41V175.20H609.68zM615.41 172.80H621.14V175.20H615.41zM621.14 170.40H626.88V175.20H621.14zM626.88 170.40H632.61V175.20H626.88zM632.61 170.40H638.34V175.20H632.61zM638.34 172.80H644.08V175.20H638.34zM649.81 208.80H655.54V211.20H649.81zM655.54 168.00H661.28V170.40H655.54zM655.54 189.60H661.28V192.00H655.54zM661.28 168.00H667.01V170.40H661.28zM695.68 165.60H701.41V168.00H695.68zM701.41 165.60H707.14V168.00H701.41zM718.61 170.40H724.34V172.80H718.61zM724.34 170.40H730.08V172.80H724.34zM724.34 182.40H730.08V184.80H724.34zM730.08 170.40H735.81V172.80H730.08zM735.81 182.40H741.54V184.80H735.81zM741.54 163.20H747.28V165.60H741.54zM741.54 182.40H747.28V184.80H741.54zM747.28 182.40H753.01V184.80H747.28zM753.01 182.40H756.00V184.80H753.01z"/><path fill="#f1e51d" d="M110.87 170.40H116.60V172.80H110.87zM116.60 170.40H122.33V172.80H116.60zM122.33 170.40H128.07V172.80H122.33zM128.07 206.40H133.80V208.80H128.07zM139.53 165.60H145.27V168.00H139.53zM139.53 201.60H145.27V204.00H139.53zM145.27 199.20H151.00V201.60H145.27zM162.47 194.40H168.20V196.80H162.47zM168.20 192.00H173.93V194.40H168.20zM173.93 189.60H179.67V192.00H173.93zM191.13 184.80H196.87V187.20H191.13zM196.87 182.40H202.60V184.80H196.87zM202.60 182.40H208.34V184.80H202.60zM208.34 182.40H214.07V184.80H208.34zM214.07 182.40H219.80V184.80H214.07zM225.54 127.20H231.27V129.60H225.54zM237.00 184.80H242.74V187.20H237.00zM242.74 184.80H248.47V187.20H242.74zM248.47 184.80H254.20V187.20H248.47zM254.20 184.80H259.94V187.20H254.20zM259.94 187.20H265.67V189.60H259.94zM271.40 194.40H277.14V196.80H271.40zM282.87 201.60H288.60V204.00H282.87zM288.60 204.00H294.34V206.40H288.60zM294.34 153.60H300.07V156.00H294.34zM300.07 208.80H305.80V211.20H300.07zM305.80 211.20H311.54V213.60H305.80zM311.54 211.20H317.27V213.60H311.54zM317.27 160.80H323.00V163.20H317.27zM323.00 213.60H328.74V216.00H323.00zM345.94 216.00H351.67V218.40H345.94zM351.67 216.00H357.40V218.40H351.67zM363.14 180.00H368.87V182.40H363.14zM363.14 220.80H368.87V223.20H363.14zM374.60 189.60H380.34V192.00H374.60zM403.27 204.00H409.01V206.40H403.27zM409.01 187.20H414.74V192.00H409.01zM414.74 184.80H420.47V187.20H414.74zM414.74 206.40H420.47V208.80H414.74zM443.41 182.40H449.14V184.80H443.41zM449.14 189.60H454.87V192.00H449.14zM454.87 189.60H460.61V192.00H454.87zM466.34 180.00H472.07V182.40H466.34zM472.07 180.00H477.81V182.40H472.07zM477.81 187.20H483.54V189.60H477.81zM483.54 187.20H489.27V189.60H483.54zM483.54 204.00H489.27V206.40H483.54zM495.01 177.60H500.74V180.00H495.01zM500.74 177.60H506.47V180.00H500.74zM512.21 184.80H517.94V187.20H512.21zM517.94 184.80H523.67V187.20H517.94zM523.67 175.20H529.41V177.60H523.67zM529.41 201.60H535.14V204.00H529.41zM540.87 182.40H546.61V184.80H540.87zM546.61 172.80H552.34V175.20H546.61zM546.61 182.40H552.34V184.80H546.61zM552.34 172.80H558.07V175.20H552.34zM575.27 170.40H581.01V172.80H575.27zM575.27 180.00H581.01V182.40H575.27zM581.01 180.00H586.74V182.40H581.01zM598.21 168.00H603.94V170.40H598.21zM598.21 194.40H603.94V196.80H598.21zM603.94 168.00H609.68V170.40H603.94zM603.94 194.40H609.68V196.80H603.94zM609.68 177.60H615.41V180.00H609.68zM615.41 192.00H621.14V194.40H615.41zM632.61 165.60H638.34V168.00H632.61zM632.61 189.60H638.34V192.00H632.61zM638.34 165.60H644.08V168.00H638.34zM655.54 187.20H661.28V189.60H655.54zM667.01 175.20H672.74V177.60H667.01zM672.74 175.20H678.48V177.60H672.74zM678.48 163.20H684.21V165.60H678.48zM678.48 175.20H684.21V177.60H678.48zM684.21 163.20H689.94V165.60H684.21zM701.41 208.80H707.14V211.20H701.41zM707.14 182.40H712.88V184.80H707.14zM718.61 180.00H724.34V182.40H718.61zM724.34 208.80H730.08V211.20H724.34zM730.08 160.80H735.81V163.20H730.08zM735.81 160.80H741.54V163.20H735.81zM735.81 208.80H741.54V211.20H735.81zM741.54 208.80H747.28V211.20H741.54zM747.28 172.80H753.01V175.20H747.28zM747.28 208.80H753.01V211.20H747.28zM753.01 172.80H756.00V175.20H753.01z"/><path fill="#dfe318" d="M110.87 172.80H116.60V175.20H110.87zM116.60 172.80H122.33V175.20H116.60zM151.00 192.00H156.73V194.40H151.00zM156.73 189.60H162.47V192.00H156.73zM162.47 187.20H168.20V189.60H162.47zM168.20 184.80H173.93V187.20H168.20zM173.93 182.40H179.67V184.80H173.93zM202.60 175.20H208.34V177.60H202.60zM208.34 175.20H214.07V177.60H208.34zM214.07 175.20H219.80V177.60H214.07zM219.80 175.20H225.54V177.60H219.80zM254.20 177.60H259.94V180.00H254.20zM259.94 180.00H265.67V182.40H259.94zM271.40 187.20H277.14V189.60H271.40zM288.60 196.80H294.34V199.20H288.60zM334.47 208.80H340.20V211.20H334.47zM351.67 175.20H357.40V177.60H351.67zM357.40 213.60H363.14V216.00H357.40zM368.87 220.80H374.60V223.20H368.87zM489.27 206.40H495.01V208.80H489.27zM535.14 204.00H540.87V206.40H535.14zM569.54 218.40H575.27V220.80H569.54zM626.88 211.20H632.61V213.60H626.88zM638.34 170.40H644.08V172.80H638.34zM644.08 170.40H649.81V172.80H644.08zM649.81 170.40H655.54V172.80H649.81zM655.54 170.40H661.28V172.80H655.54zM667.01 168.00H672.74V170.40H667.01zM667.01 187.20H672.74V189.60H667.01zM672.74 168.00H678.48V170.40H672.74zM689.94 170.40H695.68V172.80H689.94zM695.68 170.40H701.41V172.80H695.68zM701.41 170.40H707.14V172.80H701.41zM707.14 165.60H712.88V168.00H707.14zM707.14 170.40H712.88V172.80H707.14zM712.88 170.40H718.61V172.80H712.88zM712.88 184.80H718.61V187.20H712.88zM730.08 182.40H735.81V184.80H730.08zM747.28 163.20H753.01V165.60H747.28z"/><path fill="#bade28" d="M110.87 175.20H116.60V177.60H110.87zM173.93 151.20H179.67V153.60H173.93zM202.60 160.80H208.34V163.20H202.60zM254.20 153.60H259.94V156.00H254.20zM254.20 158.40H259.94V160.80H254.20zM254.20 163.20H259.94V165.60H254.20zM259.94 168.00H265.67V170.40H259.94zM265.67 172.80H271.40V175.20H265.67zM288.60 187.20H294.34V189.60H288.60zM300.07 192.00H305.80V194.40H300.07zM317.27 196.80H323.00V199.20H317.27zM345.94 204.00H351.67V206.40H345.94zM495.01 208.80H500.74V211.20H495.01zM558.07 204.00H563.81V206.40H558.07zM621.14 196.80H626.88V199.20H621.14zM661.28 192.00H667.01V194.40H661.28zM672.74 189.60H678.48V192.00H672.74zM678.48 189.60H684.21V192.00H678.48zM718.61 206.40H724.34V208.80H718.61zM724.34 187.20H730.08V189.60H724.34z"/><path fill="#81d34d" d="M110.87 177.60H116.60V180.00H110.87zM168.20 156.00H173.93V158.40H168.20zM168.20 172.80H173.93V175.20H168.20zM191.13 146.40H196.87V148.80H191.13zM208.34 151.20H214.07V153.60H208.34zM271.40 160.80H277.14V163.20H271.40zM323.00 187.20H328.74V189.60H323.00zM477.81 213.60H483.54V216.00H477.81zM535.14 220.80H540.87V223.20H535.14zM592.47 204.00H598.21V206.40H592.47z"/><path fill="#46c06f" d="M110.87 180.00H116.60V182.40H110.87zM202.60 141.60H208.34V144.00H202.60zM208.34 139.20H214.07V141.60H208.34zM214.07 146.40H219.80V148.80H214.07zM277.14 151.20H282.87V153.60H277.14zM340.20 177.60H345.94V180.00H340.20zM340.20 189.60H345.94V192.00H340.20zM368.87 211.20H374.60V213.60H368.87z"/><path fill="#3aba76" d="M110.87 192.00H116.60V194.40H110.87zM219.80 144.00H225.54V146.40H219.80zM259.94 148.80H265.67V151.20H259.94zM265.67 144.00H271.40V146.40H265.67zM294.34 170.40H300.07V172.80H294.34zM300.07 165.60H305.80V168.00H300.07zM345.94 192.00H351.67V194.40H345.94zM351.67 184.80H357.40V187.20H351.67zM351.67 196.80H357.40V199.20H351.67zM546.61 211.20H552.34V213.60H546.61zM701.41 194.40H707.14V196.80H701.41zM718.61 194.40H724.34V196.80H718.61z"/><path fill="#5ec962" d="M110.87 194.40H116.60V196.80H110.87zM128.07 194.40H133.80V196.80H128.07zM156.73 177.60H162.47V180.00H156.73zM214.07 136.80H219.80V139.20H214.07zM225.54 144.00H231.27V146.40H225.54zM294.34 160.80H300.07V163.20H294.34zM294.34 172.80H300.07V175.20H294.34zM414.74 216.00H420.47V218.40H414.74zM598.21 204.00H603.94V206.40H598.21zM603.94 204.00H609.68V206.40H603.94zM615.41 201.60H621.14V204.00H615.41z"/><path fill="#89d548" d="M110.87 196.80H116.60V199.20H110.87zM116.60 196.80H122.33V199.20H116.60zM122.33 196.80H128.07V199.20H122.33zM133.80 194.40H139.53V196.80H133.80zM151.00 165.60H156.73V168.00H151.00zM300.07 180.00H305.80V182.40H300.07zM305.80 182.40H311.54V184.80H305.80zM311.54 184.80H317.27V187.20H311.54zM328.74 189.60H334.47V192.00H328.74zM357.40 206.40H363.14V208.80H357.40zM558.07 206.40H563.81V208.80H558.07zM609.68 201.60H615.41V204.00H609.68zM661.28 194.40H667.01V196.80H661.28zM678.48 192.00H684.21V194.40H678.48zM684.21 192.00H689.94V194.40H684.21zM689.94 192.00H695.68V194.40H689.94z"/><path fill="#b0dd2f" d="M110.87 199.20H116.60V201.60H110.87zM116.60 199.20H122.33V201.60H116.60zM191.13 165.60H196.87V168.00H191.13zM202.60 158.40H208.34V160.80H202.60zM259.94 158.40H265.67V160.80H259.94zM265.67 168.00H271.40V170.40H265.67zM271.40 144.00H277.14V146.40H271.40zM294.34 187.20H300.07V189.60H294.34zM300.07 189.60H305.80V192.00H300.07zM317.27 194.40H323.00V196.80H317.27zM374.60 220.80H380.34V223.20H374.60zM506.47 208.80H512.21V211.20H506.47zM540.87 220.80H546.61V223.20H540.87zM546.61 206.40H552.34V208.80H546.61zM701.41 206.40H707.14V208.80H701.41zM707.14 189.60H712.88V192.00H707.14z"/><path fill="#cde11d" d="M110.87 201.60H116.60V204.00H110.87zM168.20 180.00H173.93V182.40H168.20zM173.93 177.60H179.67V180.00H173.93zM179.67 175.20H185.40V177.60H179.67zM185.40 172.80H191.13V175.20H185.40zM191.13 170.40H196.87V172.80H191.13zM202.60 168.00H208.34V170.40H202.60zM225.54 151.20H231.27V156.00H225.54zM231.27 129.60H237.00V132.00H231.27zM231.27 153.60H237.00V156.00H231.27zM237.00 153.60H242.74V156.00H237.00zM242.74 151.20H248.47V156.00H242.74zM242.74 170.40H248.47V172.80H242.74zM248.47 170.40H254.20V172.80H248.47zM271.40 182.40H277.14V184.80H271.40zM288.60 192.00H294.34V194.40H288.60zM300.07 196.80H305.80V199.20H300.07zM311.54 163.20H317.27V165.60H311.54zM328.74 204.00H334.47V206.40H328.74zM351.67 208.80H357.40V211.20H351.67zM380.34 225.60H386.07V228.00H380.34zM517.94 206.40H523.67V208.80H517.94zM644.08 208.80H649.81V211.20H644.08zM678.48 206.40H684.21V208.80H678.48z"/><path fill="#ece51b" d="M110.87 206.40H116.60V208.80H110.87zM145.27 163.20H151.00V165.60H145.27zM168.20 189.60H173.93V192.00H168.20zM173.93 187.20H179.67V189.60H173.93zM191.13 141.60H196.87V144.00H191.13zM196.87 180.00H202.60V182.40H196.87zM202.60 180.00H208.34V182.40H202.60zM208.34 180.00H214.07V182.40H208.34zM214.07 180.00H219.80V182.40H214.07zM237.00 127.20H242.74V129.60H237.00zM242.74 127.20H248.47V129.60H242.74zM248.47 182.40H254.20V184.80H248.47zM254.20 129.60H259.94V132.00H254.20zM254.20 182.40H259.94V184.80H254.20zM259.94 184.80H265.67V187.20H259.94zM265.67 136.80H271.40V139.20H265.67zM271.40 192.00H277.14V194.40H271.40zM282.87 199.20H288.60V201.60H282.87zM288.60 151.20H294.34V153.60H288.60zM288.60 201.60H294.34V204.00H288.60zM300.07 206.40H305.80V208.80H300.07zM311.54 208.80H317.27V211.20H311.54zM323.00 211.20H328.74V213.60H323.00zM340.20 213.60H345.94V216.00H340.20zM345.94 213.60H351.67V216.00H345.94zM357.40 216.00H363.14V218.40H357.40zM368.87 223.20H374.60V225.60H368.87zM380.34 196.80H386.07V199.20H380.34zM386.07 199.20H391.80V201.60H386.07zM397.54 204.00H403.27V206.40H397.54zM409.01 206.40H414.74V208.80H409.01zM414.74 187.20H420.47V189.60H414.74zM420.47 187.20H426.21V192.00H420.47zM426.21 187.20H431.94V189.60H426.21zM437.67 184.80H443.41V187.20H437.67zM443.41 184.80H449.14V189.60H443.41zM449.14 187.20H454.87V189.60H449.14zM454.87 187.20H460.61V189.60H454.87zM460.61 182.40H466.34V184.80H460.61zM460.61 187.20H466.34V189.60H460.61zM466.34 182.40H472.07V184.80H466.34zM477.81 206.40H483.54V208.80H477.81zM483.54 184.80H489.27V187.20H483.54zM489.27 180.00H495.01V182.40H489.27zM489.27 184.80H495.01V187.20H489.27zM495.01 180.00H500.74V182.40H495.01zM495.01 184.80H500.74V187.20H495.01zM500.74 204.00H506.47V206.40H500.74zM506.47 204.00H512.21V206.40H506.47zM512.21 177.60H517.94V180.00H512.21zM517.94 177.60H523.67V180.00H517.94zM517.94 182.40H523.67V184.80H517.94zM523.67 182.40H529.41V184.80H523.67zM540.87 175.20H546.61V177.60H540.87zM546.61 175.20H552.34V177.60H546.61zM546.61 201.60H552.34V204.00H546.61zM552.34 180.00H558.07V182.40H552.34zM558.07 180.00H563.81V182.40H558.07zM563.81 172.80H569.54V175.20H563.81zM569.54 172.80H575.27V175.20H569.54zM586.74 177.60H592.47V180.00H586.74zM586.74 218.40H592.47V220.80H586.74zM592.47 170.40H598.21V172.80H592.47zM592.47 177.60H598.21V180.00H592.47zM592.47 196.80H598.21V199.20H592.47zM615.41 168.00H621.14V170.40H615.41zM626.88 175.20H632.61V177.60H626.88zM632.61 175.20H638.34V177.60H632.61zM638.34 175.20H644.08V177.60H638.34zM644.08 175.20H649.81V177.60H644.08zM644.08 189.60H649.81V192.00H644.08zM655.54 165.60H661.28V168.00H655.54zM661.28 165.60H667.01V168.00H661.28zM672.74 184.80H678.48V187.20H672.74zM678.48 184.80H684.21V187.20H678.48zM684.21 184.80H689.94V187.20H684.21zM689.94 184.80H695.68V187.20H689.94zM695.68 184.80H701.41V187.20H695.68zM701.41 163.20H707.14V165.60H701.41zM707.14 163.20H712.88V165.60H707.14zM707.14 172.80H712.88V175.20H707.14zM712.88 172.80H718.61V175.20H712.88zM712.88 208.80H718.61V211.20H712.88zM718.61 172.80H724.34V175.20H718.61zM724.34 172.80H730.08V175.20H724.34zM730.08 180.00H735.81V182.40H730.08zM735.81 180.00H741.54V182.40H735.81zM741.54 180.00H747.28V182.40H741.54zM747.28 160.80H753.01V163.20H747.28zM747.28 180.00H753.01V182.40H747.28zM753.01 160.80H756.00V163.20H753.01zM753.01 180.00H756.00V182.40H753.01z"/><path fill="#bddf26" d="M116.60 175.20H122.33V177.60H116.60zM122.33 175.20H128.07V177.60H122.33zM139.53 194.40H145.27V196.80H139.53zM168.20 177.60H173.93V180.00H168.20zM208.34 158.40H214.07V160.80H208.34zM214.07 153.60H219.80V156.00H214.07zM242.74 148.80H248.47V151.20H242.74zM248.47 160.80H254.20V163.20H248.47zM254.20 156.00H259.94V158.40H254.20zM254.20 165.60H259.94V168.00H254.20zM271.40 177.60H277.14V180.00H271.40zM282.87 184.80H288.60V187.20H282.87zM300.07 160.80H305.80V163.20H300.07zM305.80 194.40H311.54V196.80H305.80zM323.00 199.20H328.74V201.60H323.00zM334.47 201.60H340.20V204.00H334.47zM368.87 189.60H374.60V192.00H368.87zM386.07 206.40H391.80V208.80H386.07zM592.47 216.00H598.21V218.40H592.47zM609.68 199.20H615.41V201.60H609.68zM638.34 194.40H644.08V196.80H638.34zM684.21 189.60H689.94V192.00H684.21zM689.94 189.60H695.68V192.00H689.94zM695.68 189.60H701.41V192.00H695.68z"/><path fill="#84d44b" d="M116.60 177.60H122.33V180.00H116.60zM231.27 132.00H237.00V134.40H231.27zM265.67 141.60H271.40V144.00H265.67zM277.14 165.60H282.87V168.00H277.14zM334.47 192.00H340.20V194.40H334.47zM540.87 208.80H546.61V211.20H540.87zM701.41 192.00H707.14V194.40H701.41z"/><path fill="#48c16e" d="M116.60 180.00H122.33V182.40H116.60zM128.07 180.00H133.80V182.40H128.07zM179.67 163.20H185.40V165.60H179.67zM495.01 213.60H500.74V216.00H495.01zM621.14 201.60H626.88V204.00H621.14z"/><path fill="#1f9f88" d="M116.60 184.80H122.33V187.20H116.60zM122.33 187.20H128.07V189.60H122.33zM145.27 177.60H151.00V180.00H145.27zM219.80 139.20H225.54V141.60H219.80zM231.27 136.80H237.00V139.20H231.27zM242.74 139.20H248.47V141.60H242.74zM254.20 139.20H259.94V144.00H254.20zM265.67 148.80H271.40V151.20H265.67zM271.40 151.20H277.14V153.60H271.40zM277.14 156.00H282.87V158.40H277.14zM363.14 201.60H368.87V204.00H363.14zM529.41 213.60H535.14V216.00H529.41z"/><path fill="#1fa188" d="M116.60 187.20H122.33V189.60H116.60zM185.40 156.00H191.13V158.40H185.40zM191.13 151.20H196.87V153.60H191.13zM196.87 151.20H202.60V153.60H196.87zM208.34 144.00H214.07V146.40H208.34zM397.54 218.40H403.27V220.80H397.54z"/><path fill="#24aa83" d="M116.60 189.60H122.33V192.00H116.60zM128.07 182.40H133.80V184.80H128.07zM191.13 156.00H196.87V158.40H191.13zM363.14 194.40H368.87V196.80H363.14z"/><path fill="#38b977" d="M116.60 192.00H122.33V194.40H116.60zM168.20 168.00H173.93V170.40H168.20zM191.13 148.80H196.87V151.20H191.13zM506.47 213.60H512.21V216.00H506.47zM615.41 211.20H621.14V213.60H615.41z"/><path fill="#5cc863" d="M116.60 194.40H122.33V196.80H116.60zM122.33 194.40H128.07V196.80H122.33zM242.74 144.00H248.47V146.40H242.74zM328.74 184.80H334.47V187.20H328.74z"/><path fill="#f6e620" d="M116.60 208.80H122.33V211.20H116.60zM122.33 208.80H128.07V211.20H122.33zM128.07 208.80H133.80V211.20H128.07zM133.80 206.40H139.53V208.80H133.80zM139.53 204.00H145.27V206.40H139.53zM145.27 201.60H151.00V204.00H145.27zM156.73 199.20H162.47V201.60H156.73zM162.47 151.20H168.20V153.60H162.47zM162.47 196.80H168.20V199.20H162.47zM168.20 148.80H173.93V151.20H168.20zM168.20 194.40H173.93V196.80H168.20zM173.93 146.40H179.67V148.80H173.93zM173.93 194.40H179.67V196.80H173.93zM179.67 192.00H185.40V194.40H179.67zM185.40 141.60H191.13V144.00H185.40zM185.40 189.60H191.13V192.00H185.40zM191.13 187.20H196.87V189.60H191.13zM196.87 136.80H202.60V139.20H196.87zM196.87 187.20H202.60V189.60H196.87zM202.60 187.20H208.34V189.60H202.60zM208.34 187.20H214.07V189.60H208.34zM214.07 187.20H219.80V189.60H214.07zM219.80 187.20H225.54V189.60H219.80zM225.54 187.20H231.27V189.60H225.54zM231.27 187.20H237.00V189.60H231.27zM237.00 187.20H242.74V189.60H237.00zM242.74 187.20H248.47V189.60H242.74zM248.47 189.60H254.20V192.00H248.47zM254.20 189.60H259.94V192.00H254.20zM259.94 192.00H265.67V194.40H259.94zM265.67 194.40H271.40V196.80H265.67zM271.40 199.20H277.14V201.60H271.40zM277.14 201.60H282.87V204.00H277.14zM282.87 204.00H288.60V208.80H282.87zM288.60 148.80H294.34V151.20H288.60zM288.60 208.80H294.34V211.20H288.60zM294.34 211.20H300.07V213.60H294.34zM300.07 213.60H305.80V216.00H300.07zM305.80 213.60H311.54V216.00H305.80zM311.54 158.40H317.27V160.80H311.54zM311.54 216.00H317.27V218.40H311.54zM317.27 216.00H323.00V218.40H317.27zM323.00 216.00H328.74V218.40H323.00zM328.74 160.80H334.47V163.20H328.74zM328.74 218.40H334.47V220.80H328.74zM334.47 218.40H340.20V220.80H334.47zM340.20 218.40H345.94V220.80H340.20zM345.94 218.40H351.67V220.80H345.94zM351.67 170.40H357.40V172.80H351.67zM351.67 218.40H357.40V220.80H351.67zM357.40 220.80H363.14V223.20H357.40zM363.14 223.20H368.87V225.60H363.14zM368.87 182.40H374.60V184.80H368.87zM368.87 225.60H374.60V228.00H368.87zM386.07 194.40H391.80V196.80H386.07zM391.80 196.80H397.54V199.20H391.80zM397.54 199.20H403.27V201.60H397.54zM403.27 184.80H409.01V189.60H403.27zM403.27 192.00H409.01V194.40H403.27zM403.27 201.60H409.01V204.00H403.27zM414.74 182.40H420.47V184.80H414.74zM414.74 204.00H420.47V206.40H414.74zM420.47 182.40H426.21V184.80H420.47zM443.41 180.00H449.14V182.40H443.41zM443.41 192.00H449.14V194.40H443.41zM449.14 180.00H454.87V182.40H449.14zM449.14 192.00H454.87V194.40H449.14zM472.07 177.60H477.81V180.00H472.07zM472.07 189.60H477.81V192.00H472.07zM477.81 177.60H483.54V180.00H477.81zM477.81 189.60H483.54V192.00H477.81zM477.81 204.00H483.54V206.40H477.81zM495.01 201.60H500.74V204.00H495.01zM500.74 175.20H506.47V177.60H500.74zM500.74 187.20H506.47V189.60H500.74zM500.74 201.60H506.47V204.00H500.74zM506.47 175.20H512.21V177.60H506.47zM506.47 187.20H512.21V189.60H506.47zM506.47 201.60H512.21V204.00H506.47zM512.21 187.20H517.94V189.60H512.21zM529.41 172.80H535.14V175.20H529.41zM535.14 172.80H540.87V175.20H535.14zM535.14 184.80H540.87V187.20H535.14zM540.87 184.80H546.61V187.20H540.87zM540.87 199.20H546.61V201.60H540.87zM546.61 199.20H552.34V201.60H546.61zM552.34 170.40H558.07V172.80H552.34zM558.07 170.40H563.81V172.80H558.07zM558.07 196.80H563.81V199.20H558.07zM563.81 182.40H569.54V184.80H563.81zM563.81 196.80H569.54V199.20H563.81zM569.54 182.40H575.27V184.80H569.54zM569.54 196.80H575.27V199.20H569.54zM581.01 168.00H586.74V170.40H581.01zM586.74 168.00H592.47V170.40H586.74zM592.47 194.40H598.21V196.80H592.47zM598.21 180.00H603.94V182.40H598.21zM598.21 216.00H603.94V218.40H598.21zM603.94 180.00H609.68V182.40H603.94zM603.94 216.00H609.68V218.40H603.94zM609.68 165.60H615.41V168.00H609.68zM615.41 213.60H621.14V216.00H615.41zM621.14 189.60H626.88V192.00H621.14zM626.88 189.60H632.61V192.00H626.88zM632.61 211.20H638.34V213.60H632.61zM638.34 177.60H644.08V180.00H638.34zM644.08 163.20H649.81V165.60H644.08zM644.08 177.60H649.81V180.00H644.08zM644.08 187.20H649.81V189.60H644.08zM649.81 163.20H655.54V165.60H649.81zM649.81 177.60H655.54V180.00H649.81zM655.54 163.20H661.28V165.60H655.54zM655.54 177.60H661.28V180.00H655.54zM661.28 163.20H667.01V165.60H661.28zM661.28 184.80H667.01V187.20H661.28zM667.01 182.40H672.74V184.80H667.01zM672.74 182.40H678.48V184.80H672.74zM678.48 182.40H684.21V184.80H678.48zM684.21 182.40H689.94V184.80H684.21zM684.21 208.80H689.94V211.20H684.21zM689.94 182.40H695.68V184.80H689.94zM689.94 208.80H695.68V211.20H689.94zM695.68 160.80H701.41V163.20H695.68zM695.68 182.40H701.41V184.80H695.68zM701.41 160.80H707.14V163.20H701.41zM707.14 160.80H712.88V163.20H707.14zM707.14 175.20H712.88V177.60H707.14zM707.14 180.00H712.88V182.40H707.14zM712.88 175.20H718.61V177.60H712.88zM718.61 177.60H724.34V180.00H718.61zM747.28 158.40H753.01V160.80H747.28zM747.28 175.20H753.01V177.60H747.28zM753.01 158.40H756.00V160.80H753.01zM753.01 175.20H756.00V177.60H753.01z"/><path fill="#86d549" d="M122.33 177.60H128.07V180.00H122.33zM128.07 177.60H133.80V180.00H128.07zM156.73 180.00H162.47V182.40H156.73zM288.60 172.80H294.34V175.20H288.60zM397.54 213.60H403.27V216.00H397.54zM495.01 211.20H500.74V213.60H495.01zM621.14 199.20H626.88V201.60H621.14zM672.74 192.00H678.48V194.40H672.74z"/><path fill="#4ac16d" d="M122.33 180.00H128.07V182.40H122.33zM151.00 168.00H156.73V170.40H151.00zM265.67 153.60H271.40V156.00H265.67zM300.07 175.20H305.80V177.60H300.07zM345.94 180.00H351.67V182.40H345.94zM667.01 194.40H672.74V196.80H667.01z"/><path fill="#1f9e89" d="M122.33 184.80H128.07V187.20H122.33zM191.13 153.60H196.87V156.00H191.13zM242.74 136.80H248.47V139.20H242.74zM667.01 204.00H672.74V206.40H667.01z"/><path fill="#22a884" d="M122.33 189.60H128.07V192.00H122.33zM259.94 141.60H265.67V144.00H259.94zM288.60 160.80H294.34V163.20H288.60zM300.07 168.00H305.80V170.40H300.07z"/><path fill="#37b878" d="M122.33 192.00H128.07V194.40H122.33zM128.07 192.00H133.80V194.40H128.07zM173.93 156.00H179.67V158.40H173.93zM391.80 216.00H397.54V218.40H391.80zM598.21 213.60H603.94V216.00H598.21zM603.94 213.60H609.68V216.00H603.94z"/><path fill="#d2e21b" d="M122.33 201.60H128.07V204.00H122.33zM196.87 170.40H202.60V172.80H196.87zM202.60 170.40H208.34V172.80H202.60zM208.34 170.40H214.07V172.80H208.34zM214.07 170.40H219.80V172.80H214.07zM265.67 180.00H271.40V182.40H265.67zM277.14 146.40H282.87V148.80H277.14zM277.14 187.20H282.87V189.60H277.14zM323.00 204.00H328.74V206.40H323.00zM328.74 165.60H334.47V168.00H328.74zM340.20 206.40H345.94V208.80H340.20zM345.94 172.80H351.67V175.20H345.94zM357.40 180.00H363.14V182.40H357.40zM374.60 223.20H380.34V225.60H374.60zM397.54 208.80H403.27V211.20H397.54zM512.21 206.40H517.94V208.80H512.21zM546.61 220.80H552.34V223.20H546.61zM569.54 201.60H575.27V204.00H569.54zM575.27 201.60H581.01V204.00H575.27zM626.88 194.40H632.61V196.80H626.88zM707.14 187.20H712.88V189.60H707.14zM724.34 184.80H730.08V187.20H724.34z"/><path fill="#e5e419" d="M122.33 204.00H128.07V206.40H122.33zM133.80 170.40H139.53V172.80H133.80zM133.80 201.60H139.53V204.00H133.80zM151.00 160.80H156.73V163.20H151.00zM173.93 148.80H179.67V151.20H173.93zM173.93 184.80H179.67V187.20H173.93zM179.67 182.40H185.40V184.80H179.67zM185.40 180.00H191.13V182.40H185.40zM196.87 139.20H202.60V141.60H196.87zM214.07 177.60H219.80V180.00H214.07zM219.80 177.60H225.54V180.00H219.80zM225.54 177.60H231.27V180.00H225.54zM231.27 177.60H237.00V180.00H231.27zM237.00 177.60H242.74V180.00H237.00zM254.20 180.00H259.94V182.40H254.20zM294.34 201.60H300.07V204.00H294.34zM300.07 158.40H305.80V160.80H300.07zM300.07 204.00H305.80V206.40H300.07zM311.54 206.40H317.27V208.80H311.54zM323.00 163.20H328.74V165.60H323.00zM323.00 208.80H328.74V211.20H323.00zM363.14 182.40H368.87V184.80H363.14zM374.60 192.00H380.34V194.40H374.60zM391.80 204.00H397.54V206.40H391.80zM420.47 208.80H426.21V211.20H420.47zM426.21 208.80H431.94V211.20H426.21zM431.94 208.80H437.67V211.20H431.94zM437.67 208.80H443.41V211.20H437.67zM443.41 208.80H449.14V211.20H443.41zM449.14 208.80H454.87V211.20H449.14zM454.87 208.80H460.61V211.20H454.87zM460.61 208.80H466.34V211.20H460.61zM466.34 208.80H472.07V211.20H466.34zM472.07 208.80H477.81V211.20H472.07zM512.21 223.20H517.94V225.60H512.21zM523.67 204.00H529.41V206.40H523.67zM575.27 175.20H581.01V177.60H575.27zM575.27 218.40H581.01V220.80H575.27zM581.01 175.20H586.74V177.60H581.01zM586.74 175.20H592.47V177.60H586.74zM592.47 172.80H598.21V177.60H592.47zM598.21 172.80H603.94V175.20H598.21zM598.21 196.80H603.94V199.20H598.21zM603.94 196.80H609.68V199.20H603.94zM609.68 170.40H615.41V172.80H609.68zM615.41 170.40H621.14V172.80H615.41zM615.41 194.40H621.14V196.80H615.41zM632.61 192.00H638.34V194.40H632.61zM644.08 168.00H649.81V170.40H644.08zM644.08 172.80H649.81V175.20H644.08zM649.81 168.00H655.54V170.40H649.81zM649.81 172.80H655.54V175.20H649.81zM655.54 172.80H661.28V175.20H655.54zM655.54 208.80H661.28V211.20H655.54zM661.28 172.80H667.01V175.20H661.28zM667.01 172.80H672.74V175.20H667.01zM684.21 165.60H689.94V168.00H684.21zM689.94 165.60H695.68V168.00H689.94zM707.14 184.80H712.88V187.20H707.14zM730.08 163.20H735.81V165.60H730.08zM735.81 163.20H741.54V165.60H735.81zM735.81 170.40H741.54V172.80H735.81zM741.54 170.40H747.28V172.80H741.54zM747.28 170.40H753.01V172.80H747.28z"/><path fill="#f4e61e" d="M128.07 170.40H133.80V172.80H128.07zM133.80 168.00H139.53V170.40H133.80zM151.00 158.40H156.73V160.80H151.00zM151.00 199.20H156.73V201.60H151.00zM156.73 196.80H162.47V199.20H156.73zM173.93 192.00H179.67V194.40H173.93zM179.67 144.00H185.40V146.40H179.67zM179.67 189.60H185.40V192.00H179.67zM185.40 187.20H191.13V189.60H185.40zM196.87 184.80H202.60V187.20H196.87zM202.60 134.40H208.34V136.80H202.60zM202.60 184.80H208.34V187.20H202.60zM208.34 132.00H214.07V134.40H208.34zM208.34 184.80H214.07V187.20H208.34zM214.07 184.80H219.80V187.20H214.07zM219.80 184.80H225.54V187.20H219.80zM225.54 184.80H231.27V187.20H225.54zM231.27 184.80H237.00V187.20H231.27zM248.47 187.20H254.20V189.60H248.47zM254.20 187.20H259.94V189.60H254.20zM259.94 132.00H265.67V134.40H259.94zM259.94 189.60H265.67V192.00H259.94zM265.67 192.00H271.40V194.40H265.67zM271.40 139.20H277.14V141.60H271.40zM271.40 196.80H277.14V199.20H271.40zM277.14 199.20H282.87V201.60H277.14zM282.87 146.40H288.60V148.80H282.87zM288.60 206.40H294.34V208.80H288.60zM294.34 208.80H300.07V211.20H294.34zM300.07 156.00H305.80V158.40H300.07zM300.07 211.20H305.80V213.60H300.07zM311.54 213.60H317.27V216.00H311.54zM317.27 213.60H323.00V216.00H317.27zM323.00 160.80H328.74V163.20H323.00zM328.74 216.00H334.47V218.40H328.74zM334.47 163.20H340.20V165.60H334.47zM334.47 216.00H340.20V218.40H334.47zM340.20 165.60H345.94V168.00H340.20zM340.20 216.00H345.94V218.40H340.20zM345.94 168.00H351.67V170.40H345.94zM357.40 175.20H363.14V177.60H357.40zM357.40 218.40H363.14V220.80H357.40zM380.34 194.40H386.07V196.80H380.34zM386.07 196.80H391.80V199.20H386.07zM391.80 199.20H397.54V201.60H391.80zM397.54 201.60H403.27V204.00H397.54zM397.54 228.00H403.27V230.40H397.54zM403.27 189.60H409.01V192.00H403.27zM403.27 228.00H409.01V230.40H403.27zM409.01 184.80H414.74V187.20H409.01zM409.01 192.00H414.74V194.40H409.01zM409.01 204.00H414.74V206.40H409.01zM409.01 228.00H414.74V230.40H409.01zM414.74 192.00H420.47V194.40H414.74zM414.74 228.00H420.47V230.40H414.74zM420.47 192.00H426.21V194.40H420.47zM420.47 206.40H426.21V208.80H420.47zM420.47 228.00H426.21V230.40H420.47zM426.21 182.40H431.94V184.80H426.21zM426.21 192.00H431.94V194.40H426.21zM426.21 206.40H431.94V208.80H426.21zM426.21 228.00H431.94V230.40H426.21zM431.94 182.40H437.67V184.80H431.94zM431.94 192.00H437.67V194.40H431.94zM431.94 206.40H437.67V208.80H431.94zM431.94 228.00H437.67V230.40H431.94zM437.67 182.40H443.41V184.80H437.67zM437.67 192.00H443.41V194.40H437.67zM437.67 206.40H443.41V208.80H437.67zM437.67 228.00H443.41V230.40H437.67zM443.41 206.40H449.14V208.80H443.41zM443.41 228.00H449.14V230.40H443.41zM449.14 206.40H454.87V208.80H449.14zM449.14 228.00H454.87V230.40H449.14zM454.87 180.00H460.61V182.40H454.87zM454.87 206.40H460.61V208.80H454.87zM454.87 228.00H460.61V230.40H454.87zM460.61 180.00H466.34V182.40H460.61zM460.61 189.60H466.34V192.00H460.61zM460.61 206.40H466.34V208.80H460.61zM460.61 228.00H466.34V230.40H460.61zM466.34 189.60H472.07V192.00H466.34zM466.34 206.40H472.07V208.80H466.34zM466.34 228.00H472.07V230.40H466.34zM472.07 206.40H477.81V208.80H472.07zM472.07 228.00H477.81V230.40H472.07zM483.54 177.60H489.27V180.00H483.54zM489.27 177.60H495.01V180.00H489.27zM489.27 187.20H495.01V189.60H489.27zM495.01 187.20H500.74V189.60H495.01zM512.21 175.20H517.94V177.60H512.21zM512.21 201.60H517.94V204.00H512.21zM517.94 175.20H523.67V177.60H517.94zM517.94 201.60H523.67V204.00H517.94zM523.67 184.80H529.41V187.20H523.67zM523.67 201.60H529.41V204.00H523.67zM523.67 223.20H529.41V225.60H523.67zM529.41 184.80H535.14V187.20H529.41zM540.87 172.80H546.61V175.20H540.87zM552.34 182.40H558.07V184.80H552.34zM552.34 199.20H558.07V201.60H552.34zM558.07 182.40H563.81V184.80H558.07zM563.81 170.40H569.54V172.80H563.81zM569.54 170.40H575.27V172.80H569.54zM575.27 196.80H581.01V199.20H575.27zM581.01 196.80H586.74V199.20H581.01zM586.74 180.00H592.47V182.40H586.74zM586.74 196.80H592.47V199.20H586.74zM592.47 168.00H598.21V170.40H592.47zM592.47 180.00H598.21V182.40H592.47zM615.41 165.60H621.14V168.00H615.41zM615.41 177.60H621.14V180.00H615.41zM621.14 165.60H626.88V168.00H621.14zM621.14 177.60H626.88V180.00H621.14zM626.88 165.60H632.61V168.00H626.88zM626.88 177.60H632.61V180.00H626.88zM632.61 177.60H638.34V180.00H632.61zM649.81 187.20H655.54V189.60H649.81zM667.01 163.20H672.74V165.60H667.01zM672.74 163.20H678.48V165.60H672.74zM684.21 175.20H689.94V177.60H684.21zM689.94 175.20H695.68V177.60H689.94zM695.68 175.20H701.41V177.60H695.68zM695.68 208.80H701.41V211.20H695.68zM701.41 175.20H707.14V177.60H701.41zM701.41 182.40H707.14V184.80H701.41zM712.88 160.80H718.61V163.20H712.88zM712.88 180.00H718.61V182.40H712.88zM718.61 160.80H724.34V163.20H718.61zM718.61 175.20H724.34V177.60H718.61zM724.34 160.80H730.08V163.20H724.34zM724.34 175.20H730.08V180.00H724.34zM730.08 175.20H735.81V180.00H730.08zM730.08 208.80H735.81V211.20H730.08zM735.81 175.20H741.54V180.00H735.81zM741.54 175.20H747.28V180.00H741.54zM747.28 177.60H753.01V180.00H747.28zM753.01 177.60H756.00V180.00H753.01z"/><path fill="#c0df25" d="M128.07 175.20H133.80V177.60H128.07zM168.20 153.60H173.93V156.00H168.20zM173.93 175.20H179.67V177.60H173.93zM185.40 146.40H191.13V148.80H185.40zM208.34 160.80H214.07V163.20H208.34zM219.80 151.20H225.54V153.60H219.80zM219.80 160.80H225.54V163.20H219.80zM225.54 148.80H231.27V151.20H225.54zM225.54 160.80H231.27V163.20H225.54zM231.27 160.80H237.00V163.20H231.27zM237.00 160.80H242.74V165.60H237.00zM242.74 158.40H248.47V165.60H242.74zM248.47 158.40H254.20V160.80H248.47zM248.47 163.20H254.20V165.60H248.47zM259.94 170.40H265.67V172.80H259.94zM277.14 182.40H282.87V184.80H277.14zM311.54 196.80H317.27V199.20H311.54zM351.67 177.60H357.40V180.00H351.67zM380.34 201.60H386.07V204.00H380.34zM409.01 211.20H414.74V213.60H409.01zM477.81 225.60H483.54V228.00H477.81zM489.27 208.80H495.01V211.20H489.27zM500.74 223.20H506.47V225.60H500.74zM535.14 206.40H540.87V208.80H535.14zM667.01 189.60H672.74V192.00H667.01zM689.94 206.40H695.68V208.80H689.94zM753.01 206.40H756.00V208.80H753.01z"/><path fill="#1e9c89" d="M128.07 184.80H133.80V187.20H128.07zM133.80 182.40H139.53V187.20H133.80zM139.53 180.00H145.27V182.40H139.53zM363.14 196.80H368.87V199.20H363.14z"/><path fill="#1e9d89" d="M128.07 187.20H133.80V189.60H128.07zM196.87 148.80H202.60V151.20H196.87zM237.00 136.80H242.74V139.20H237.00zM248.47 139.20H254.20V141.60H248.47zM259.94 144.00H265.67V146.40H259.94zM368.87 206.40H374.60V208.80H368.87zM374.60 204.00H380.34V206.40H374.60zM483.54 216.00H489.27V218.40H483.54z"/><path fill="#22a785" d="M128.07 189.60H133.80V192.00H128.07zM156.73 168.00H162.47V170.40H156.73zM300.07 170.40H305.80V172.80H300.07zM305.80 170.40H311.54V172.80H305.80zM311.54 172.80H317.27V175.20H311.54zM380.34 208.80H386.07V211.20H380.34zM523.67 213.60H529.41V216.00H523.67z"/><path fill="#b5de2b" d="M128.07 199.20H133.80V201.60H128.07zM139.53 170.40H145.27V172.80H139.53zM151.00 187.20H156.73V189.60H151.00zM179.67 148.80H185.40V151.20H179.67zM196.87 141.60H202.60V144.00H196.87zM196.87 163.20H202.60V165.60H196.87zM214.07 134.40H219.80V136.80H214.07zM248.47 148.80H254.20V151.20H248.47zM259.94 165.60H265.67V168.00H259.94zM265.67 170.40H271.40V172.80H265.67zM271.40 175.20H277.14V177.60H271.40zM277.14 180.00H282.87V182.40H277.14zM282.87 182.40H288.60V184.80H282.87zM311.54 194.40H317.27V196.80H311.54zM317.27 165.60H323.00V168.00H317.27zM340.20 201.60H345.94V204.00H340.20zM477.81 211.20H483.54V213.60H477.81zM500.74 208.80H506.47V211.20H500.74zM592.47 201.60H598.21V204.00H592.47zM730.08 187.20H735.81V189.60H730.08zM735.81 187.20H741.54V189.60H735.81z"/><path fill="#d5e21a" d="M128.07 201.60H133.80V204.00H128.07zM145.27 165.60H151.00V168.00H145.27zM156.73 187.20H162.47V189.60H156.73zM185.40 175.20H191.13V177.60H185.40zM191.13 172.80H196.87V175.20H191.13zM225.54 129.60H231.27V132.00H225.54zM237.00 172.80H242.74V175.20H237.00zM242.74 172.80H248.47V175.20H242.74zM248.47 172.80H254.20V175.20H248.47zM294.34 196.80H300.07V199.20H294.34zM300.07 199.20H305.80V201.60H300.07zM311.54 201.60H317.27V204.00H311.54zM334.47 206.40H340.20V208.80H334.47zM363.14 216.00H368.87V218.40H363.14zM386.07 204.00H391.80V206.40H386.07zM506.47 206.40H512.21V208.80H506.47zM506.47 223.20H512.21V225.60H506.47zM546.61 204.00H552.34V206.40H546.61zM563.81 201.60H569.54V204.00H563.81zM672.74 206.40H678.48V208.80H672.74zM753.01 165.60H756.00V168.00H753.01z"/><path fill="#e7e419" d="M128.07 204.00H133.80V206.40H128.07zM139.53 199.20H145.27V201.60H139.53zM145.27 196.80H151.00V199.20H145.27zM156.73 192.00H162.47V194.40H156.73zM162.47 189.60H168.20V192.00H162.47zM168.20 151.20H173.93V153.60H168.20zM168.20 187.20H173.93V189.60H168.20zM185.40 144.00H191.13V146.40H185.40zM191.13 180.00H196.87V182.40H191.13zM196.87 177.60H202.60V180.00H196.87zM202.60 177.60H208.34V180.00H202.60zM208.34 177.60H214.07V180.00H208.34zM214.07 132.00H219.80V134.40H214.07zM248.47 180.00H254.20V182.40H248.47zM259.94 182.40H265.67V184.80H259.94zM271.40 189.60H277.14V192.00H271.40zM282.87 196.80H288.60V199.20H282.87zM288.60 199.20H294.34V201.60H288.60zM334.47 165.60H340.20V168.00H334.47zM334.47 211.20H340.20V213.60H334.47zM340.20 211.20H345.94V213.60H340.20zM357.40 177.60H363.14V180.00H357.40zM363.14 218.40H368.87V220.80H363.14zM374.60 225.60H380.34V228.00H374.60zM403.27 206.40H409.01V208.80H403.27zM517.94 180.00H523.67V182.40H517.94zM517.94 204.00H523.67V206.40H517.94zM523.67 180.00H529.41V182.40H523.67zM529.41 180.00H535.14V182.40H529.41zM535.14 177.60H540.87V180.00H535.14zM540.87 177.60H546.61V180.00H540.87zM546.61 177.60H552.34V180.00H546.61zM552.34 177.60H558.07V180.00H552.34zM552.34 220.80H558.07V223.20H552.34zM558.07 177.60H563.81V180.00H558.07zM563.81 175.20H569.54V180.00H563.81zM569.54 175.20H575.27V180.00H569.54zM581.01 172.80H586.74V175.20H581.01zM586.74 172.80H592.47V175.20H586.74zM586.74 199.20H592.47V201.60H586.74zM598.21 175.20H603.94V177.60H598.21zM603.94 170.40H609.68V172.80H603.94zM603.94 175.20H609.68V177.60H603.94zM609.68 175.20H615.41V177.60H609.68zM632.61 168.00H638.34V170.40H632.61zM638.34 168.00H644.08V170.40H638.34zM649.81 189.60H655.54V192.00H649.81zM661.28 208.80H667.01V211.20H661.28zM672.74 172.80H678.48V175.20H672.74zM678.48 165.60H684.21V168.00H678.48zM678.48 172.80H684.21V175.20H678.48zM684.21 172.80H689.94V175.20H684.21zM718.61 163.20H724.34V165.60H718.61zM724.34 163.20H730.08V165.60H724.34zM753.01 170.40H756.00V172.80H753.01z"/><path fill="#c5e021" d="M133.80 172.80H139.53V175.20H133.80zM145.27 192.00H151.00V194.40H145.27zM214.07 165.60H219.80V168.00H214.07zM219.80 165.60H225.54V168.00H219.80zM225.54 165.60H231.27V168.00H225.54zM231.27 165.60H237.00V168.00H231.27zM237.00 129.60H242.74V132.00H237.00zM237.00 165.60H242.74V168.00H237.00zM242.74 156.00H248.47V158.40H242.74zM248.47 156.00H254.20V158.40H248.47zM254.20 132.00H259.94V134.40H254.20zM271.40 180.00H277.14V182.40H271.40zM282.87 187.20H288.60V189.60H282.87zM288.60 189.60H294.34V192.00H288.60zM305.80 196.80H311.54V199.20H305.80zM317.27 199.20H323.00V201.60H317.27zM323.00 165.60H328.74V168.00H323.00zM340.20 204.00H345.94V206.40H340.20zM368.87 218.40H374.60V220.80H368.87zM391.80 208.80H397.54V211.20H391.80zM414.74 211.20H420.47V213.60H414.74zM529.41 206.40H535.14V208.80H529.41zM655.54 192.00H661.28V194.40H655.54zM684.21 206.40H689.94V208.80H684.21zM724.34 206.40H730.08V208.80H724.34zM735.81 206.40H741.54V208.80H735.81zM741.54 206.40H747.28V208.80H741.54z"/><path fill="#8ed645" d="M133.80 175.20H139.53V177.60H133.80zM173.93 170.40H179.67V172.80H173.93zM282.87 170.40H288.60V172.80H282.87zM345.94 199.20H351.67V201.60H345.94zM380.34 204.00H386.07V206.40H380.34zM489.27 211.20H495.01V213.60H489.27zM535.14 208.80H540.87V211.20H535.14z"/><path fill="#4ec36b" d="M133.80 177.60H139.53V180.00H133.80zM162.47 160.80H168.20V163.20H162.47zM162.47 172.80H168.20V175.20H162.47zM208.34 148.80H214.07V151.20H208.34zM305.80 177.60H311.54V180.00H305.80zM323.00 182.40H328.74V184.80H323.00zM357.40 187.20H363.14V189.60H357.40zM380.34 206.40H386.07V208.80H380.34zM386.07 223.20H391.80V225.60H386.07zM529.41 220.80H535.14V223.20H529.41zM638.34 199.20H644.08V201.60H638.34z"/><path fill="#21a585" d="M133.80 187.20H139.53V189.60H133.80zM139.53 177.60H145.27V180.00H139.53zM145.27 180.00H151.00V182.40H145.27zM156.73 170.40H162.47V172.80H156.73zM162.47 165.60H168.20V168.00H162.47zM173.93 158.40H179.67V160.80H173.93zM202.60 144.00H208.34V146.40H202.60zM294.34 165.60H300.07V168.00H294.34zM351.67 192.00H357.40V194.40H351.67zM414.74 218.40H420.47V220.80H414.74zM632.61 201.60H638.34V204.00H632.61z"/><path fill="#34b679" d="M133.80 189.60H139.53V192.00H133.80zM185.40 151.20H191.13V153.60H185.40zM237.00 141.60H242.74V144.00H237.00zM242.74 134.40H248.47V136.80H242.74zM254.20 136.80H259.94V139.20H254.20zM311.54 177.60H317.27V180.00H311.54zM712.88 194.40H718.61V196.80H712.88zM724.34 194.40H730.08V196.80H724.34zM741.54 194.40H747.28V196.80H741.54zM747.28 194.40H753.01V196.80H747.28z"/><path fill="#5ac864" d="M133.80 192.00H139.53V194.40H133.80zM168.20 170.40H173.93V172.80H168.20zM317.27 182.40H323.00V184.80H317.27zM368.87 194.40H374.60V196.80H368.87zM409.01 216.00H414.74V218.40H409.01zM529.41 211.20H535.14V213.60H529.41zM655.54 196.80H661.28V199.20H655.54zM730.08 204.00H735.81V206.40H730.08zM735.81 204.00H741.54V206.40H735.81z"/><path fill="#77d153" d="M139.53 172.80H145.27V175.20H139.53zM185.40 148.80H191.13V151.20H185.40zM219.80 134.40H225.54V136.80H219.80zM265.67 156.00H271.40V158.40H265.67zM317.27 168.00H323.00V170.40H317.27zM317.27 184.80H323.00V187.20H317.27zM506.47 211.20H512.21V213.60H506.47zM563.81 206.40H569.54V208.80H563.81zM712.88 192.00H718.61V194.40H712.88z"/><path fill="#26ad81" d="M139.53 184.80H145.27V187.20H139.53zM248.47 141.60H254.20V144.00H248.47zM317.27 172.80H323.00V175.20H317.27zM334.47 180.00H340.20V182.40H334.47zM340.20 184.80H345.94V187.20H340.20z"/><path fill="#40bd72" d="M139.53 187.20H145.27V189.60H139.53zM168.20 158.40H173.93V160.80H168.20zM173.93 165.60H179.67V168.00H173.93zM317.27 170.40H323.00V172.80H317.27zM334.47 175.20H340.20V177.60H334.47zM363.14 192.00H368.87V194.40H363.14zM477.81 216.00H483.54V218.40H477.81zM500.74 213.60H506.47V216.00H500.74zM592.47 206.40H598.21V208.80H592.47zM661.28 196.80H667.01V199.20H661.28z"/><path fill="#6ccd5a" d="M139.53 189.60H145.27V192.00H139.53zM191.13 160.80H196.87V163.20H191.13zM300.07 177.60H305.80V180.00H300.07zM334.47 172.80H340.20V175.20H334.47zM586.74 206.40H592.47V208.80H586.74zM649.81 196.80H655.54V199.20H649.81z"/><path fill="#98d83e" d="M139.53 192.00H145.27V194.40H139.53zM202.60 139.20H208.34V141.60H202.60zM202.60 156.00H208.34V158.40H202.60zM225.54 146.40H231.27V148.80H225.54zM265.67 158.40H271.40V160.80H265.67zM271.40 163.20H277.14V165.60H271.40zM288.60 175.20H294.34V177.60H288.60zM300.07 182.40H305.80V184.80H300.07zM305.80 184.80H311.54V187.20H305.80zM311.54 187.20H317.27V189.60H311.54zM328.74 192.00H334.47V194.40H328.74zM334.47 194.40H340.20V196.80H334.47zM386.07 225.60H391.80V228.00H386.07zM414.74 213.60H420.47V216.00H414.74zM558.07 218.40H563.81V220.80H558.07zM598.21 201.60H603.94V204.00H598.21zM603.94 201.60H609.68V204.00H603.94zM615.41 199.20H621.14V201.60H615.41zM655.54 194.40H661.28V196.80H655.54zM724.34 189.60H730.08V192.00H724.34zM753.01 189.60H756.00V192.00H753.01z"/><path fill="#d8e219" d="M139.53 196.80H145.27V199.20H139.53zM156.73 158.40H162.47V160.80H156.73zM162.47 184.80H168.20V187.20H162.47zM168.20 182.40H173.93V184.80H168.20zM173.93 180.00H179.67V182.40H173.93zM179.67 177.60H185.40V180.00H179.67zM202.60 136.80H208.34V139.20H202.60zM214.07 172.80H219.80V175.20H214.07zM219.80 172.80H225.54V175.20H219.80zM225.54 172.80H231.27V175.20H225.54zM231.27 172.80H237.00V175.20H231.27zM254.20 175.20H259.94V177.60H254.20zM259.94 177.60H265.67V180.00H259.94zM271.40 184.80H277.14V187.20H271.40zM288.60 194.40H294.34V196.80H288.60zM317.27 204.00H323.00V206.40H317.27zM328.74 206.40H334.47V208.80H328.74zM345.94 208.80H351.67V211.20H345.94zM391.80 206.40H397.54V208.80H391.80zM403.27 208.80H409.01V211.20H403.27zM500.74 206.40H506.47V208.80H500.74zM644.08 192.00H649.81V194.40H644.08zM701.41 187.20H707.14V189.60H701.41zM724.34 168.00H730.08V170.40H724.34zM730.08 168.00H735.81V170.40H730.08zM735.81 165.60H741.54V170.40H735.81zM741.54 165.60H747.28V168.00H741.54zM747.28 165.60H753.01V168.00H747.28z"/><path fill="#a5db36" d="M145.27 168.00H151.00V170.40H145.27zM145.27 189.60H151.00V192.00H145.27zM168.20 175.20H173.93V177.60H168.20zM208.34 153.60H214.07V156.00H208.34zM265.67 160.80H271.40V163.20H265.67zM271.40 168.00H277.14V170.40H271.40zM282.87 177.60H288.60V180.00H282.87zM288.60 180.00H294.34V182.40H288.60zM317.27 192.00H323.00V194.40H317.27zM328.74 168.00H334.47V170.40H328.74zM334.47 196.80H340.20V199.20H334.47zM340.20 199.20H345.94V201.60H340.20zM345.94 201.60H351.67V204.00H345.94zM495.01 223.20H500.74V225.60H495.01zM581.01 204.00H586.74V206.40H581.01zM586.74 204.00H592.47V206.40H586.74zM649.81 194.40H655.54V196.80H649.81zM712.88 206.40H718.61V208.80H712.88z"/><path fill="#65cb5e" d="M145.27 170.40H151.00V172.80H145.27zM277.14 163.20H282.87V165.60H277.14zM730.08 192.00H735.81V194.40H730.08z"/><path fill="#31b57b" d="M145.27 172.80H151.00V175.20H145.27zM162.47 170.40H168.20V172.80H162.47zM179.67 153.60H185.40V156.00H179.67zM231.27 141.60H237.00V144.00H231.27zM271.40 156.00H277.14V158.40H271.40zM305.80 175.20H311.54V177.60H305.80zM323.00 172.80H328.74V175.20H323.00zM340.20 187.20H345.94V189.60H340.20zM730.08 194.40H735.81V196.80H730.08z"/><path fill="#1fa287" d="M145.27 175.20H151.00V177.60H145.27zM179.67 156.00H185.40V158.40H179.67zM403.27 218.40H409.01V220.80H403.27z"/><path fill="#2eb37c" d="M145.27 182.40H151.00V184.80H145.27zM225.54 141.60H231.27V144.00H225.54zM282.87 163.20H288.60V165.60H282.87zM368.87 196.80H374.60V199.20H368.87z"/><path fill="#50c46a" d="M145.27 184.80H151.00V187.20H145.27zM196.87 156.00H202.60V158.40H196.87zM282.87 165.60H288.60V168.00H282.87zM311.54 180.00H317.27V182.40H311.54zM489.27 213.60H495.01V216.00H489.27zM535.14 211.20H540.87V213.60H535.14z"/><path fill="#7cd250" d="M145.27 187.20H151.00V189.60H145.27zM196.87 158.40H202.60V160.80H196.87zM340.20 194.40H345.94V196.80H340.20zM644.08 196.80H649.81V199.20H644.08zM707.14 192.00H712.88V194.40H707.14z"/><path fill="#dae319" d="M145.27 194.40H151.00V196.80H145.27zM191.13 175.20H196.87V177.60H191.13zM196.87 172.80H202.60V175.20H196.87zM202.60 172.80H208.34V175.20H202.60zM208.34 134.40H214.07V136.80H208.34zM208.34 172.80H214.07V175.20H208.34zM248.47 175.20H254.20V177.60H248.47zM259.94 134.40H265.67V136.80H259.94zM265.67 182.40H271.40V184.80H265.67zM277.14 189.60H282.87V192.00H277.14zM282.87 192.00H288.60V194.40H282.87zM294.34 156.00H300.07V158.40H294.34zM305.80 160.80H311.54V163.20H305.80zM305.80 201.60H311.54V204.00H305.80zM477.81 208.80H483.54V211.20H477.81zM540.87 204.00H546.61V206.40H540.87zM563.81 218.40H569.54V220.80H563.81zM592.47 199.20H598.21V201.60H592.47zM672.74 187.20H678.48V189.60H672.74zM678.48 187.20H684.21V189.60H678.48zM684.21 187.20H689.94V189.60H684.21zM689.94 187.20H695.68V189.60H689.94zM695.68 168.00H701.41V170.40H695.68zM701.41 168.00H707.14V170.40H701.41zM707.14 168.00H712.88V170.40H707.14zM712.88 168.00H718.61V170.40H712.88zM718.61 168.00H724.34V170.40H718.61zM718.61 184.80H724.34V187.20H718.61zM724.34 165.60H730.08V168.00H724.34zM730.08 165.60H735.81V168.00H730.08zM741.54 168.00H747.28V170.40H741.54zM747.28 168.00H753.01V170.40H747.28zM753.01 168.00H756.00V170.40H753.01z"/><path fill="#c2df23" d="M151.00 163.20H156.73V165.60H151.00zM156.73 184.80H162.47V187.20H156.73zM179.67 172.80H185.40V175.20H179.67zM185.40 170.40H191.13V172.80H185.40zM191.13 168.00H196.87V170.40H191.13zM196.87 165.60H202.60V168.00H196.87zM202.60 163.20H208.34V165.60H202.60zM208.34 163.20H214.07V165.60H208.34zM214.07 156.00H219.80V165.60H214.07zM219.80 158.40H225.54V160.80H219.80zM219.80 163.20H225.54V165.60H219.80zM225.54 158.40H231.27V160.80H225.54zM225.54 163.20H231.27V165.60H225.54zM231.27 148.80H237.00V151.20H231.27zM231.27 158.40H237.00V160.80H231.27zM231.27 163.20H237.00V165.60H231.27zM237.00 148.80H242.74V151.20H237.00zM237.00 158.40H242.74V160.80H237.00zM242.74 165.60H248.47V168.00H242.74zM248.47 165.60H254.20V168.00H248.47zM254.20 168.00H259.94V170.40H254.20zM265.67 175.20H271.40V177.60H265.67zM294.34 192.00H300.07V194.40H294.34zM300.07 194.40H305.80V196.80H300.07zM328.74 201.60H334.47V204.00H328.74zM483.54 208.80H489.27V211.20H483.54zM718.61 187.20H724.34V189.60H718.61zM747.28 206.40H753.01V208.80H747.28z"/><path fill="#20a486" d="M151.00 175.20H156.73V177.60H151.00zM168.20 163.20H173.93V165.60H168.20zM208.34 141.60H214.07V144.00H208.34zM357.40 192.00H363.14V194.40H357.40zM409.01 218.40H414.74V220.80H409.01z"/><path fill="#29af7f" d="M151.00 177.60H156.73V180.00H151.00zM179.67 160.80H185.40V163.20H179.67zM208.34 146.40H214.07V148.80H208.34zM271.40 148.80H277.14V151.20H271.40zM317.27 177.60H323.00V180.00H317.27zM328.74 175.20H334.47V177.60H328.74zM334.47 177.60H340.20V180.00H334.47zM345.94 189.60H351.67V192.00H345.94zM586.74 208.80H592.47V211.20H586.74zM684.21 204.00H689.94V206.40H684.21z"/><path fill="#42be71" d="M151.00 180.00H156.73V182.40H151.00zM288.60 158.40H294.34V160.80H288.60zM328.74 182.40H334.47V184.80H328.74zM718.61 204.00H724.34V206.40H718.61z"/><path fill="#69cd5b" d="M151.00 182.40H156.73V184.80H151.00zM156.73 163.20H162.47V165.60H156.73zM237.00 144.00H242.74V146.40H237.00zM259.94 151.20H265.67V153.60H259.94zM288.60 170.40H294.34V172.80H288.60zM323.00 184.80H328.74V187.20H323.00zM517.94 211.20H523.67V213.60H517.94zM724.34 192.00H730.08V194.40H724.34zM747.28 192.00H753.01V194.40H747.28zM753.01 192.00H756.00V194.40H753.01z"/><path fill="#93d741" d="M151.00 184.80H156.73V187.20H151.00zM191.13 163.20H196.87V165.60H191.13zM277.14 148.80H282.87V151.20H277.14zM294.34 177.60H300.07V180.00H294.34zM323.00 189.60H328.74V192.00H323.00zM340.20 196.80H345.94V199.20H340.20zM363.14 211.20H368.87V213.60H363.14zM409.01 213.60H414.74V216.00H409.01zM483.54 211.20H489.27V213.60H483.54zM609.68 213.60H615.41V216.00H609.68zM730.08 189.60H735.81V192.00H730.08z"/><path fill="#eae51a" d="M151.00 194.40H156.73V196.80H151.00zM162.47 153.60H168.20V156.00H162.47zM179.67 184.80H185.40V187.20H179.67zM185.40 182.40H191.13V184.80H185.40zM219.80 180.00H225.54V182.40H219.80zM225.54 180.00H231.27V182.40H225.54zM231.27 180.00H237.00V182.40H231.27zM237.00 180.00H242.74V182.40H237.00zM242.74 180.00H248.47V182.40H242.74zM265.67 187.20H271.40V189.60H265.67zM277.14 194.40H282.87V196.80H277.14zM294.34 204.00H300.07V206.40H294.34zM305.80 206.40H311.54V208.80H305.80zM311.54 160.80H317.27V163.20H311.54zM317.27 208.80H323.00V211.20H317.27zM328.74 163.20H334.47V165.60H328.74zM328.74 211.20H334.47V213.60H328.74zM340.20 168.00H345.94V170.40H340.20zM345.94 170.40H351.67V172.80H345.94zM351.67 213.60H357.40V216.00H351.67zM431.94 187.20H437.67V189.60H431.94zM437.67 187.20H443.41V189.60H437.67zM449.14 184.80H454.87V187.20H449.14zM454.87 184.80H460.61V187.20H454.87zM460.61 184.80H466.34V187.20H460.61zM466.34 184.80H472.07V187.20H466.34zM472.07 182.40H477.81V187.20H472.07zM477.81 182.40H483.54V187.20H477.81zM483.54 182.40H489.27V184.80H483.54zM489.27 182.40H495.01V184.80H489.27zM495.01 182.40H500.74V184.80H495.01zM500.74 180.00H506.47V184.80H500.74zM506.47 180.00H512.21V184.80H506.47zM512.21 180.00H517.94V184.80H512.21zM512.21 204.00H517.94V206.40H512.21zM523.67 177.60H529.41V180.00H523.67zM529.41 177.60H535.14V180.00H529.41zM535.14 180.00H540.87V182.40H535.14zM540.87 180.00H546.61V182.40H540.87zM546.61 180.00H552.34V182.40H546.61zM552.34 175.20H558.07V177.60H552.34zM552.34 201.60H558.07V204.00H552.34zM558.07 175.20H563.81V177.60H558.07zM563.81 199.20H569.54V201.60H563.81zM569.54 199.20H575.27V201.60H569.54zM575.27 172.80H581.01V175.20H575.27zM575.27 177.60H581.01V180.00H575.27zM575.27 199.20H581.01V201.60H575.27zM581.01 177.60H586.74V180.00H581.01zM581.01 199.20H586.74V201.60H581.01zM581.01 218.40H586.74V220.80H581.01zM598.21 170.40H603.94V172.80H598.21zM615.41 175.20H621.14V177.60H615.41zM621.14 168.00H626.88V170.40H621.14zM621.14 175.20H626.88V177.60H621.14zM626.88 168.00H632.61V170.40H626.88zM626.88 192.00H632.61V194.40H626.88zM667.01 165.60H672.74V168.00H667.01zM672.74 165.60H678.48V168.00H672.74zM689.94 172.80H695.68V175.20H689.94zM695.68 172.80H701.41V175.20H695.68zM701.41 172.80H707.14V175.20H701.41zM701.41 184.80H707.14V187.20H701.41zM712.88 163.20H718.61V165.60H712.88zM718.61 182.40H724.34V184.80H718.61z"/><path fill="#aadc32" d="M156.73 160.80H162.47V163.20H156.73zM259.94 156.00H265.67V158.40H259.94zM265.67 163.20H271.40V165.60H265.67zM271.40 170.40H277.14V172.80H271.40zM288.60 182.40H294.34V184.80H288.60zM294.34 184.80H300.07V187.20H294.34zM300.07 187.20H305.80V189.60H300.07zM305.80 163.20H311.54V165.60H305.80zM305.80 189.60H311.54V192.00H305.80zM345.94 175.20H351.67V177.60H345.94zM569.54 204.00H575.27V206.40H569.54zM626.88 196.80H632.61V199.20H626.88zM707.14 206.40H712.88V208.80H707.14zM712.88 189.60H718.61V192.00H712.88z"/><path fill="#35b779" d="M156.73 165.60H162.47V168.00H156.73zM231.27 134.40H237.00V136.80H231.27zM323.00 180.00H328.74V182.40H323.00zM563.81 208.80H569.54V211.20H563.81zM707.14 194.40H712.88V196.80H707.14zM753.01 194.40H756.00V196.80H753.01z"/><path fill="#27ad81" d="M156.73 172.80H162.47V175.20H156.73zM162.47 163.20H168.20V165.60H162.47zM173.93 163.20H179.67V165.60H173.93zM185.40 158.40H191.13V160.80H185.40zM265.67 151.20H271.40V153.60H265.67zM323.00 177.60H328.74V180.00H323.00zM328.74 177.60H334.47V180.00H328.74zM351.67 194.40H357.40V196.80H351.67zM357.40 199.20H363.14V201.60H357.40zM368.87 208.80H374.60V211.20H368.87zM374.60 213.60H380.34V216.00H374.60zM517.94 213.60H523.67V216.00H517.94zM649.81 199.20H655.54V201.60H649.81zM689.94 204.00H695.68V206.40H689.94z"/><path fill="#a8db34" d="M156.73 182.40H162.47V184.80H156.73zM214.07 151.20H219.80V153.60H214.07zM277.14 175.20H282.87V177.60H277.14zM294.34 158.40H300.07V160.80H294.34zM323.00 194.40H328.74V196.80H323.00zM340.20 172.80H345.94V175.20H340.20zM512.21 208.80H517.94V211.20H512.21zM552.34 206.40H558.07V208.80H552.34zM575.27 204.00H581.01V206.40H575.27z"/><path fill="#cae11f" d="M162.47 156.00H168.20V158.40H162.47zM162.47 182.40H168.20V184.80H162.47zM196.87 168.00H202.60V170.40H196.87zM208.34 168.00H214.07V170.40H208.34zM214.07 168.00H219.80V170.40H214.07zM219.80 153.60H225.54V156.00H219.80zM219.80 168.00H225.54V170.40H219.80zM225.54 168.00H231.27V170.40H225.54zM231.27 168.00H237.00V170.40H231.27zM242.74 129.60H248.47V132.00H242.74zM248.47 153.60H254.20V156.00H248.47zM265.67 177.60H271.40V180.00H265.67zM288.60 153.60H294.34V156.00H288.60zM294.34 194.40H300.07V196.80H294.34zM311.54 199.20H317.27V201.60H311.54zM334.47 204.00H340.20V206.40H334.47zM345.94 206.40H351.67V208.80H345.94zM357.40 211.20H363.14V213.60H357.40zM363.14 184.80H368.87V187.20H363.14zM523.67 206.40H529.41V208.80H523.67zM667.01 206.40H672.74V208.80H667.01zM712.88 187.20H718.61V189.60H712.88z"/><path fill="#90d743" d="M162.47 158.40H168.20V160.80H162.47zM225.54 132.00H231.27V134.40H225.54zM323.00 168.00H328.74V170.40H323.00zM368.87 192.00H374.60V194.40H368.87zM667.01 192.00H672.74V194.40H667.01z"/><path fill="#23a983" d="M162.47 168.00H168.20V170.40H162.47zM168.20 160.80H173.93V163.20H168.20zM277.14 158.40H282.87V160.80H277.14zM305.80 172.80H311.54V175.20H305.80zM317.27 175.20H323.00V177.60H317.27zM345.94 184.80H351.67V189.60H345.94z"/><path fill="#75d054" d="M162.47 175.20H168.20V177.60H162.47zM173.93 153.60H179.67V156.00H173.93zM237.00 132.00H242.74V134.40H237.00zM282.87 168.00H288.60V170.40H282.87zM328.74 187.20H334.47V189.60H328.74zM340.20 175.20H345.94V177.60H340.20z"/><path fill="#9bd93c" d="M162.47 177.60H168.20V180.00H162.47zM208.34 136.80H214.07V139.20H208.34zM282.87 172.80H288.60V175.20H282.87zM317.27 189.60H323.00V192.00H317.27zM374.60 196.80H380.34V199.20H374.60zM420.47 213.60H426.21V216.00H420.47zM426.21 213.60H431.94V216.00H426.21zM431.94 213.60H437.67V216.00H431.94zM437.67 213.60H443.41V216.00H437.67zM443.41 213.60H449.14V216.00H443.41zM449.14 213.60H454.87V216.00H449.14zM454.87 213.60H460.61V216.00H454.87zM460.61 213.60H466.34V216.00H460.61zM466.34 213.60H472.07V216.00H466.34zM472.07 213.60H477.81V216.00H472.07zM632.61 196.80H638.34V199.20H632.61z"/><path fill="#20a386" d="M173.93 160.80H179.67V163.20H173.93zM179.67 158.40H185.40V160.80H179.67zM271.40 153.60H277.14V156.00H271.40zM282.87 160.80H288.60V163.20H282.87zM288.60 163.20H294.34V165.60H288.60zM351.67 189.60H357.40V192.00H351.67zM357.40 196.80H363.14V199.20H357.40zM386.07 213.60H391.80V216.00H386.07zM598.21 206.40H603.94V208.80H598.21zM603.94 206.40H609.68V208.80H603.94zM615.41 204.00H621.14V206.40H615.41z"/><path fill="#67cc5c" d="M173.93 168.00H179.67V170.40H173.93zM196.87 144.00H202.60V146.40H196.87zM305.80 165.60H311.54V168.00H305.80zM363.14 208.80H368.87V211.20H363.14zM735.81 192.00H741.54V194.40H735.81zM741.54 192.00H747.28V194.40H741.54z"/><path fill="#addc30" d="M173.93 172.80H179.67V175.20H173.93zM254.20 151.20H259.94V153.60H254.20zM265.67 165.60H271.40V168.00H265.67zM271.40 172.80H277.14V175.20H271.40zM277.14 177.60H282.87V180.00H277.14zM282.87 180.00H288.60V182.40H282.87zM311.54 192.00H317.27V194.40H311.54zM328.74 196.80H334.47V199.20H328.74zM357.40 182.40H363.14V184.80H357.40zM357.40 208.80H363.14V211.20H357.40zM563.81 204.00H569.54V206.40H563.81z"/><path fill="#6ece58" d="M179.67 151.20H185.40V153.60H179.67zM185.40 163.20H191.13V165.60H185.40zM282.87 153.60H288.60V156.00H282.87zM305.80 180.00H311.54V182.40H305.80zM328.74 170.40H334.47V172.80H328.74zM334.47 189.60H340.20V192.00H334.47zM552.34 208.80H558.07V211.20H552.34zM581.01 206.40H586.74V208.80H581.01z"/><path fill="#70cf57" d="M179.67 165.60H185.40V168.00H179.67zM219.80 146.40H225.54V148.80H219.80zM311.54 182.40H317.27V184.80H311.54zM345.94 196.80H351.67V199.20H345.94zM363.14 189.60H368.87V192.00H363.14zM391.80 213.60H397.54V216.00H391.80zM512.21 211.20H517.94V213.60H512.21zM575.27 206.40H581.01V208.80H575.27z"/><path fill="#95d840" d="M179.67 168.00H185.40V170.40H179.67zM185.40 165.60H191.13V168.00H185.40zM242.74 146.40H248.47V148.80H242.74zM259.94 153.60H265.67V156.00H259.94zM277.14 168.00H282.87V170.40H277.14zM311.54 165.60H317.27V168.00H311.54zM351.67 180.00H357.40V182.40H351.67zM386.07 208.80H391.80V211.20H386.07zM529.41 208.80H535.14V211.20H529.41zM735.81 189.60H741.54V192.00H735.81zM741.54 189.60H747.28V192.00H741.54zM747.28 189.60H753.01V192.00H747.28z"/><path fill="#c8e020" d="M191.13 144.00H196.87V146.40H191.13zM202.60 165.60H208.34V168.00H202.60zM208.34 165.60H214.07V168.00H208.34zM219.80 132.00H225.54V134.40H219.80zM219.80 156.00H225.54V158.40H219.80zM225.54 156.00H231.27V158.40H225.54zM231.27 156.00H237.00V158.40H231.27zM237.00 156.00H242.74V158.40H237.00zM237.00 168.00H242.74V170.40H237.00zM242.74 168.00H248.47V170.40H242.74zM248.47 151.20H254.20V153.60H248.47zM248.47 168.00H254.20V170.40H248.47zM254.20 170.40H259.94V172.80H254.20zM259.94 172.80H265.67V175.20H259.94zM265.67 139.20H271.40V141.60H265.67zM277.14 184.80H282.87V187.20H277.14zM323.00 201.60H328.74V204.00H323.00zM374.60 194.40H380.34V196.80H374.60zM420.47 211.20H426.21V213.60H420.47zM426.21 211.20H431.94V213.60H426.21zM431.94 211.20H437.67V213.60H431.94zM437.67 211.20H443.41V213.60H437.67zM443.41 211.20H449.14V213.60H443.41zM449.14 211.20H454.87V213.60H449.14zM454.87 211.20H460.61V213.60H454.87zM460.61 211.20H466.34V213.60H460.61zM466.34 211.20H472.07V213.60H466.34zM472.07 211.20H477.81V213.60H472.07zM598.21 199.20H603.94V201.60H598.21zM603.94 199.20H609.68V201.60H603.94zM615.41 196.80H621.14V199.20H615.41zM632.61 194.40H638.34V196.80H632.61zM730.08 206.40H735.81V208.80H730.08z"/><path fill="#3fbc73" d="M191.13 158.40H196.87V160.80H191.13zM328.74 172.80H334.47V175.20H328.74zM357.40 201.60H363.14V204.00H357.40zM363.14 206.40H368.87V208.80H363.14z"/><path fill="#28ae80" d="M196.87 146.40H202.60V148.80H196.87zM288.60 165.60H294.34V168.00H288.60zM523.67 220.80H529.41V223.20H523.67z"/><path fill="#2cb17e" d="M196.87 153.60H202.60V156.00H196.87zM242.74 141.60H248.47V144.00H242.74zM294.34 163.20H300.07V165.60H294.34zM311.54 170.40H317.27V172.80H311.54zM334.47 182.40H340.20V184.80H334.47zM340.20 180.00H345.94V182.40H340.20zM357.40 189.60H363.14V192.00H357.40zM403.27 225.60H409.01V228.00H403.27zM409.01 225.60H414.74V228.00H409.01zM414.74 225.60H420.47V228.00H414.74zM420.47 225.60H426.21V228.00H420.47zM426.21 225.60H431.94V228.00H426.21zM431.94 225.60H437.67V228.00H431.94zM437.67 225.60H443.41V228.00H437.67zM443.41 225.60H449.14V228.00H443.41zM449.14 225.60H454.87V228.00H449.14zM454.87 225.60H460.61V228.00H454.87zM460.61 225.60H466.34V228.00H460.61zM466.34 225.60H472.07V228.00H466.34zM472.07 225.60H477.81V228.00H472.07zM581.01 208.80H586.74V211.20H581.01z"/><path fill="#a0da39" d="M196.87 160.80H202.60V163.20H196.87zM237.00 146.40H242.74V148.80H237.00zM282.87 175.20H288.60V177.60H282.87zM288.60 177.60H294.34V180.00H288.60zM368.87 216.00H374.60V218.40H368.87z"/><path fill="#73d056" d="M202.60 153.60H208.34V156.00H202.60zM368.87 213.60H374.60V216.00H368.87zM569.54 206.40H575.27V208.80H569.54zM626.88 199.20H632.61V201.60H626.88zM718.61 192.00H724.34V194.40H718.61z"/><path fill="#7ad151" d="M214.07 148.80H219.80V151.20H214.07zM300.07 163.20H305.80V165.60H300.07zM345.94 177.60H351.67V180.00H345.94zM351.67 201.60H357.40V204.00H351.67zM546.61 208.80H552.34V211.20H546.61z"/><path fill="#2db27d" d="M219.80 136.80H225.54V139.20H219.80zM237.00 134.40H242.74V136.80H237.00zM300.07 172.80H305.80V175.20H300.07zM345.94 182.40H351.67V184.80H345.94zM380.34 218.40H386.07V220.80H380.34zM552.34 211.20H558.07V213.60H552.34zM678.48 204.00H684.21V206.40H678.48z"/><path fill="#21a685" d="M219.80 141.60H225.54V144.00H219.80zM259.94 146.40H265.67V148.80H259.94zM277.14 153.60H282.87V156.00H277.14zM420.47 218.40H426.21V220.80H420.47zM426.21 218.40H431.94V220.80H426.21zM431.94 218.40H437.67V220.80H431.94zM437.67 218.40H443.41V220.80H437.67zM443.41 218.40H449.14V220.80H443.41zM449.14 218.40H454.87V220.80H449.14zM454.87 218.40H460.61V220.80H454.87zM460.61 218.40H466.34V220.80H460.61zM466.34 218.40H472.07V220.80H466.34zM472.07 218.40H477.81V220.80H472.07z"/><path fill="#a2da37" d="M219.80 148.80H225.54V151.20H219.80zM259.94 136.80H265.67V139.20H259.94zM271.40 165.60H277.14V168.00H271.40zM277.14 172.80H282.87V175.20H277.14zM294.34 182.40H300.07V184.80H294.34zM300.07 184.80H305.80V187.20H300.07zM305.80 187.20H311.54V189.60H305.80zM311.54 189.60H317.27V192.00H311.54zM328.74 194.40H334.47V196.80H328.74zM334.47 170.40H340.20V172.80H334.47zM363.14 187.20H368.87V189.60H363.14zM391.80 211.20H397.54V213.60H391.80zM517.94 208.80H523.67V211.20H517.94zM621.14 211.20H626.88V213.60H621.14zM718.61 189.60H724.34V192.00H718.61z"/><path fill="#3dbc74" d="M225.54 134.40H231.27V136.80H225.54zM317.27 180.00H323.00V182.40H317.27zM672.74 194.40H678.48V196.80H672.74z"/><path fill="#63cb5f" d="M231.27 144.00H237.00V146.40H231.27zM271.40 146.40H277.14V148.80H271.40zM351.67 182.40H357.40V184.80H351.67zM357.40 204.00H363.14V206.40H357.40zM523.67 211.20H529.41V213.60H523.67z"/><path fill="#9dd93b" d="M231.27 146.40H237.00V148.80H231.27zM277.14 170.40H282.87V172.80H277.14zM294.34 180.00H300.07V182.40H294.34zM323.00 192.00H328.74V194.40H323.00zM351.67 204.00H357.40V206.40H351.67zM380.34 223.20H386.07V225.60H380.34zM523.67 208.80H529.41V211.20H523.67z"/><path fill="#52c569" d="M248.47 144.00H254.20V146.40H248.47zM259.94 139.20H265.67V141.60H259.94zM397.54 216.00H403.27V218.40H397.54z"/><path fill="#2ab07f" d="M254.20 144.00H259.94V146.40H254.20zM397.54 225.60H403.27V228.00H397.54z"/><path fill="#56c667" d="M254.20 146.40H259.94V148.80H254.20zM311.54 168.00H317.27V170.40H311.54zM386.07 211.20H391.80V213.60H386.07zM403.27 216.00H409.01V218.40H403.27zM483.54 223.20H489.27V225.60H483.54zM753.01 204.00H756.00V206.40H753.01z"/><path fill="#58c765" d="M271.40 158.40H277.14V160.80H271.40zM323.00 170.40H328.74V172.80H323.00zM351.67 199.20H357.40V201.60H351.67zM483.54 213.60H489.27V216.00H483.54zM741.54 204.00H747.28V206.40H741.54zM747.28 204.00H753.01V206.40H747.28z"/><path fill="#2fb47c" d="M282.87 156.00H288.60V158.40H282.87zM328.74 180.00H334.47V182.40H328.74zM374.60 201.60H380.34V204.00H374.60zM512.21 213.60H517.94V216.00H512.21zM575.27 208.80H581.01V211.20H575.27zM632.61 208.80H638.34V211.20H632.61z"/><path fill="#32b67a" d="M305.80 168.00H311.54V170.40H305.80zM569.54 208.80H575.27V211.20H569.54zM626.88 201.60H632.61V204.00H626.88zM661.28 206.40H667.01V208.80H661.28zM672.74 204.00H678.48V206.40H672.74zM735.81 194.40H741.54V196.80H735.81z"/><path fill="#54c568" d="M334.47 187.20H340.20V189.60H334.47zM345.94 194.40H351.67V196.80H345.94zM724.34 204.00H730.08V206.40H724.34z"/><path fill="#1f998a" d="M363.14 199.20H368.87V201.60H363.14zM741.54 196.80H747.28V199.20H741.54z"/><path fill="#1f948c" d="M368.87 201.60H374.60V206.40H368.87zM489.27 216.00H495.01V218.40H489.27zM517.94 220.80H523.67V223.20H517.94zM535.14 213.60H540.87V216.00H535.14z"/><path fill="#218f8d" d="M374.60 206.40H380.34V211.20H374.60zM558.07 211.20H563.81V213.60H558.07z"/><path fill="#1f9a8a" d="M374.60 211.20H380.34V213.60H374.60zM380.34 216.00H386.07V218.40H380.34zM718.61 196.80H724.34V199.20H718.61zM747.28 196.80H753.01V199.20H747.28zM753.01 196.80H756.00V199.20H753.01z"/><path fill="#4cc26c" d="M374.60 216.00H380.34V218.40H374.60zM558.07 208.80H563.81V211.20H558.07zM609.68 204.00H615.41V206.40H609.68z"/><path fill="#21918c" d="M380.34 211.20H386.07V213.60H380.34z"/><path fill="#228d8d" d="M380.34 213.60H386.07V216.00H380.34z"/><path fill="#2c718e" d="M386.07 216.00H391.80V218.40H386.07z"/><path fill="#3e4c8a" d="M386.07 218.40H391.80V220.80H386.07z"/><path fill="#23888e" d="M386.07 220.80H391.80V223.20H386.07zM667.01 196.80H672.74V199.20H667.01zM701.41 196.80H707.14V199.20H701.41zM753.01 199.20H756.00V201.60H753.01z"/><path fill="#228b8d" d="M391.80 218.40H397.54V220.80H391.80zM495.01 216.00H500.74V218.40H495.01zM621.14 204.00H626.88V206.40H621.14zM712.88 196.80H718.61V199.20H712.88z"/><path fill="#481d6f" d="M391.80 220.80H397.54V223.20H391.80z"/><path fill="#440154" d="M391.80 223.20H397.54V225.60H391.80zM397.54 223.20H403.27V225.60H397.54zM403.27 223.20H409.01V225.60H403.27zM409.01 223.20H414.74V225.60H409.01zM414.74 223.20H420.47V225.60H414.74zM420.47 223.20H426.21V225.60H420.47zM426.21 223.20H431.94V225.60H426.21zM431.94 223.20H437.67V225.60H431.94zM437.67 223.20H443.41V225.60H437.67zM443.41 223.20H449.14V225.60H443.41zM449.14 223.20H454.87V225.60H449.14zM454.87 223.20H460.61V225.60H454.87zM460.61 223.20H466.34V225.60H460.61zM466.34 223.20H472.07V225.60H466.34zM472.07 223.20H477.81V225.60H472.07zM477.81 220.80H483.54V223.20H477.81zM483.54 220.80H489.27V223.20H483.54zM489.27 220.80H495.01V223.20H489.27zM500.74 218.40H506.47V220.80H500.74zM506.47 218.40H512.21V220.80H506.47zM512.21 218.40H517.94V220.80H512.21zM517.94 218.40H523.67V220.80H517.94zM523.67 218.40H529.41V220.80H523.67zM529.41 218.40H535.14V220.80H529.41zM535.14 218.40H540.87V220.80H535.14zM546.61 216.00H552.34V218.40H546.61zM552.34 216.00H558.07V218.40H552.34zM563.81 213.60H569.54V216.00H563.81zM569.54 213.60H575.27V216.00H569.54zM575.27 213.60H581.01V216.00H575.27zM581.01 213.60H586.74V216.00H581.01zM586.74 213.60H592.47V216.00H586.74zM592.47 211.20H598.21V213.60H592.47zM598.21 211.20H603.94V213.60H598.21zM603.94 211.20H609.68V213.60H603.94zM615.41 208.80H621.14V211.20H615.41zM626.88 206.40H632.61V208.80H626.88zM632.61 206.40H638.34V208.80H632.61zM638.34 206.40H644.08V208.80H638.34zM644.08 204.00H649.81V206.40H644.08zM649.81 204.00H655.54V206.40H649.81zM655.54 204.00H661.28V206.40H655.54z"/><path fill="#424086" d="M397.54 220.80H403.27V223.20H397.54z"/><path fill="#414287" d="M403.27 220.80H409.01V223.20H403.27zM632.61 204.00H638.34V206.40H632.61z"/><path fill="#414487" d="M409.01 220.80H414.74V223.20H409.01zM678.48 199.20H684.21V201.60H678.48z"/><path fill="#404588" d="M414.74 220.80H420.47V223.20H414.74zM420.47 220.80H426.21V223.20H420.47zM426.21 220.80H431.94V223.20H426.21zM431.94 220.80H437.67V223.20H431.94zM437.67 220.80H443.41V223.20H437.67zM443.41 220.80H449.14V223.20H443.41zM449.14 220.80H454.87V223.20H449.14zM454.87 220.80H460.61V223.20H454.87zM460.61 220.80H466.34V223.20H460.61zM466.34 220.80H472.07V223.20H466.34zM472.07 220.80H477.81V223.20H472.07z"/><path fill="#26818e" d="M477.81 218.40H483.54V220.80H477.81zM592.47 208.80H598.21V211.20H592.47z"/><path fill="#463480" d="M477.81 223.20H483.54V225.60H477.81z"/><path fill="#46327e" d="M483.54 218.40H489.27V220.80H483.54z"/><path fill="#482071" d="M489.27 218.40H495.01V220.80H489.27zM535.14 216.00H540.87V218.40H535.14z"/><path fill="#470e61" d="M495.01 218.40H500.74V220.80H495.01zM621.14 206.40H626.88V208.80H621.14zM661.28 201.60H667.01V204.00H661.28z"/><path fill="#481668" d="M495.01 220.80H500.74V223.20H495.01z"/><path fill="#27808e" d="M500.74 216.00H506.47V218.40H500.74zM552.34 218.40H558.07V220.80H552.34z"/><path fill="#453781" d="M500.74 220.80H506.47V223.20H500.74z"/><path fill="#2c738e" d="M506.47 216.00H512.21V218.40H506.47z"/><path fill="#38598c" d="M506.47 220.80H512.21V223.20H506.47zM695.68 201.60H701.41V204.00H695.68z"/><path fill="#31678e" d="M512.21 216.00H517.94V218.40H512.21zM712.88 199.20H718.61V201.60H712.88z"/><path fill="#2a778e" d="M512.21 220.80H517.94V223.20H512.21z"/><path fill="#38588c" d="M517.94 216.00H523.67V218.40H517.94zM649.81 201.60H655.54V204.00H649.81z"/><path fill="#3f4788" d="M523.67 216.00H529.41V218.40H523.67zM672.74 201.60H678.48V204.00H672.74z"/><path fill="#453581" d="M529.41 216.00H535.14V218.40H529.41z"/><path fill="#24868e" d="M540.87 213.60H546.61V216.00H540.87zM741.54 199.20H747.28V201.60H741.54z"/><path fill="#46075a" d="M540.87 216.00H546.61V218.40H540.87z"/><path fill="#482374" d="M540.87 218.40H546.61V220.80H540.87z"/><path fill="#2a768e" d="M546.61 213.60H552.34V216.00H546.61z"/><path fill="#3b528b" d="M546.61 218.40H552.34V220.80H546.61z"/><path fill="#33638d" d="M552.34 213.60H558.07V216.00H552.34z"/><path fill="#481467" d="M558.07 213.60H563.81V216.00H558.07z"/><path fill="#46085c" d="M558.07 216.00H563.81V218.40H558.07zM661.28 204.00H667.01V206.40H661.28z"/><path fill="#2d718e" d="M563.81 211.20H569.54V213.60H563.81z"/><path fill="#34618d" d="M563.81 216.00H569.54V218.40H563.81zM581.01 211.20H586.74V213.60H581.01zM707.14 199.20H712.88V201.60H707.14z"/><path fill="#2f6b8e" d="M569.54 211.20H575.27V213.60H569.54z"/><path fill="#2e6d8e" d="M569.54 216.00H575.27V218.40H569.54zM626.88 208.80H632.61V211.20H626.88z"/><path fill="#31668e" d="M575.27 211.20H581.01V213.60H575.27z"/><path fill="#2a788e" d="M575.27 216.00H581.01V218.40H575.27z"/><path fill="#25838e" d="M581.01 216.00H586.74V218.40H581.01z"/><path fill="#375b8d" d="M586.74 211.20H592.47V213.60H586.74zM701.41 199.20H707.14V201.60H701.41z"/><path fill="#218e8d" d="M586.74 216.00H592.47V218.40H586.74z"/><path fill="#46337f" d="M592.47 213.60H598.21V216.00H592.47z"/><path fill="#423f85" d="M598.21 208.80H603.94V211.20H598.21zM603.94 208.80H609.68V211.20H603.94zM672.74 199.20H678.48V201.60H672.74z"/><path fill="#21908d" d="M609.68 206.40H615.41V208.80H609.68z"/><path fill="#481769" d="M609.68 208.80H615.41V211.20H609.68zM667.01 201.60H672.74V204.00H667.01z"/><path fill="#450457" d="M609.68 211.20H615.41V213.60H609.68z"/><path fill="#433e85" d="M615.41 206.40H621.14V208.80H615.41z"/><path fill="#471365" d="M621.14 208.80H626.88V211.20H621.14z"/><path fill="#2f6c8e" d="M626.88 204.00H632.61V206.40H626.88z"/><path fill="#20928c" d="M638.34 201.60H644.08V204.00H638.34zM724.34 201.60H730.08V204.00H724.34z"/><path fill="#481b6d" d="M638.34 204.00H644.08V206.40H638.34z"/><path fill="#29798e" d="M644.08 201.60H649.81V204.00H644.08z"/><path fill="#3e4a89" d="M644.08 206.40H649.81V208.80H644.08zM678.48 201.60H684.21V204.00H678.48z"/><path fill="#26828e" d="M649.81 206.40H655.54V208.80H649.81zM672.74 196.80H678.48V199.20H672.74zM678.48 196.80H684.21V199.20H678.48zM718.61 199.20H724.34V201.60H718.61z"/><path fill="#1f988b" d="M655.54 199.20H661.28V201.60H655.54zM724.34 196.80H730.08V199.20H724.34zM735.81 196.80H741.54V199.20H735.81z"/><path fill="#46307e" d="M655.54 201.60H661.28V204.00H655.54zM667.01 199.20H672.74V201.60H667.01z"/><path fill="#287d8e" d="M661.28 199.20H667.01V201.60H661.28z"/><path fill="#25848e" d="M684.21 196.80H689.94V199.20H684.21zM724.34 199.20H730.08V201.60H724.34zM730.08 199.20H735.81V201.60H730.08z"/><path fill="#3e4989" d="M684.21 199.20H689.94V201.60H684.21z"/><path fill="#3c508b" d="M684.21 201.60H689.94V204.00H684.21z"/><path fill="#25858e" d="M689.94 196.80H695.68V199.20H689.94zM735.81 199.20H741.54V201.60H735.81z"/><path fill="#3c4f8a" d="M689.94 199.20H695.68V201.60H689.94z"/><path fill="#3a548c" d="M689.94 201.60H695.68V204.00H689.94zM695.68 199.20H701.41V201.60H695.68z"/><path fill="#24878e" d="M695.68 196.80H701.41V199.20H695.68zM747.28 199.20H753.01V201.60H747.28z"/><path fill="#355f8d" d="M701.41 201.60H707.14V204.00H701.41z"/><path fill="#23898e" d="M707.14 196.80H712.88V199.20H707.14z"/><path fill="#32648e" d="M707.14 201.60H712.88V204.00H707.14z"/><path fill="#306a8e" d="M712.88 201.60H718.61V204.00H712.88z"/><path fill="#238a8d" d="M718.61 201.60H724.34V204.00H718.61z"/><path fill="#1f978b" d="M730.08 196.80H735.81V199.20H730.08zM753.01 201.60H756.00V204.00H753.01z"/><path fill="#1f958b" d="M730.08 201.60H735.81V204.00H730.08z"/><path fill="#1f968b" d="M735.81 201.60H741.54V204.00H735.81zM741.54 201.60H747.28V204.00H741.54zM747.28 201.60H753.01V204.00H747.28z"/></g></g>
<path d="M108.50 420.50H756.50M108.50 372.50H756.50M108.50 324.50H756.50M108.50 276.50H756.50M108.50 228.50H756.50M108.50 180.50H756.50M108.50 132.50H756.50M108.50 84.50H756.50M108.50 60.50V420.50M154.50 60.50V420.50M181.50 60.50V420.50M200.50 60.50V420.50M215.50 60.50V420.50M227.50 60.50V420.50M237.50 60.50V420.50M246.50 60.50V420.50M253.50 60.50V420.50M260.50 60.50V420.50M306.50 60.50V420.50M333.50 60.50V420.50M352.50 60.50V420.50M367.50 60.50V420.50M379.50 60.50V420.50M389.50 60.50V420.50M398.50 60.50V420.50M406.50 60.50V420.50M413.50 60.50V420.50M459.50 60.50V420.50M485.50 60.50V420.50M504.50 60.50V420.50M519.50 60.50V420.50M531.50 60.50V420.50M542.50 60.50V420.50M550.50 60.50V420.50M558.50 60.50V420.50M565.50 60.50V420.50M611.50 60.50V420.50M638.50 60.50V420.50M657.50 60.50V420.50M672.50 60.50V420.50M684.50 60.50V420.50M694.50 60.50V420.50M703.50 60.50V420.50M711.50 60.50V420.50M717.50 60.50V420.50" stroke="#b3b3b3" stroke-width="1.11" fill="none"/>
<path d="M260.37,159.60 L312.54,173.77 L337.34,205.20 L397.97,228.00 L501.08,175.19 L513.72,171.59 L534.53,182.40 L549.51,212.39 L593.68,228.01 L610.97,272.39 L756.00,249.53" stroke="#666666" stroke-width="2.78" fill="none" stroke-linejoin="round" clip-path="url(#axclip)"/>
<path d="M260.37,343.20 L295.48,340.08 L352.10,340.07 L397.97,346.08 L426.97,332.87 L470.67,296.75 L509.26,278.64 L519.24,278.63 L531.30,297.60 L565.10,333.00 L577.17,338.99 L594.53,329.11 L616.98,366.01 L641.24,383.99 L664.63,390.00 L693.87,390.00 L718.13,384.00 L746.05,383.97 L756.00,385.16" stroke="#666666" stroke-width="2.78" fill="none" stroke-linejoin="round" clip-path="url(#axclip)"/>
<rect x="108.50" y="60.50" width="648.00" height="360.00" fill="none" stroke="#000" stroke-width="1.11"/>
<path d="M103.64 420.50H108.50M103.64 372.50H108.50M103.64 324.50H108.50M103.64 276.50H108.50M103.64 228.50H108.50M103.64 180.50H108.50M103.64 132.50H108.50M103.64 84.50H108.50M108.50 420.50V425.36M260.50 420.50V425.36M413.50 420.50V425.36M565.50 420.50V425.36M717.50 420.50V425.36" stroke="#000" stroke-width="1.11" fill="none"/>
<path d="M154.50 420.50V423.28M181.50 420.50V423.28M200.50 420.50V423.28M215.50 420.50V423.28M227.50 420.50V423.28M237.50 420.50V423.28M246.50 420.50V423.28M253.50 420.50V423.28M306.50 420.50V423.28M333.50 420.50V423.28M352.50 420.50V423.28M367.50 420.50V423.28M379.50 420.50V423.28M389.50 420.50V423.28M398.50 420.50V423.28M406.50 420.50V423.28M459.50 420.50V423.28M485.50 420.50V423.28M504.50 420.50V423.28M519.50 420.50V423.28M531.50 420.50V423.28M542.50 420.50V423.28M550.50 420.50V423.28M558.50 420.50V423.28M611.50 420.50V423.28M638.50 420.50V423.28M657.50 420.50V423.28M672.50 420.50V423.28M684.50 420.50V423.28M694.50 420.50V423.28M703.50 420.50V423.28M711.50 420.50V423.28" stroke="#000" stroke-width="0.83" fill="none"/>
<defs><linearGradient id="cbg" x1="0" y1="0" x2="0" y2="1"><stop offset="0.0000" stop-color="#440154"/><stop offset="0.0312" stop-color="#460b5e"/><stop offset="0.0625" stop-color="#481769"/><stop offset="0.0938" stop-color="#482173"/><stop offset="0.1250" stop-color="#472c7a"/><stop offset="0.1562" stop-color="#453581"/><stop offset="0.1875" stop-color="#423f85"/><stop offset="0.2188" stop-color="#3f4889"/><stop offset="0.2500" stop-color="#3b518b"/><stop offset="0.2812" stop-color="#375a8c"/><stop offset="0.3125" stop-color="#33628d"/><stop offset="0.3438" stop-color="#306a8e"/><stop offset="0.3750" stop-color="#2c718e"/><stop offset="0.4062" stop-color="#29798e"/><stop offset="0.4375" stop-color="#26818e"/><stop offset="0.4688" stop-color="#23888e"/><stop offset="0.5000" stop-color="#21908d"/><stop offset="0.5312" stop-color="#1f978b"/><stop offset="0.5625" stop-color="#1f9f88"/><stop offset="0.5938" stop-color="#21a685"/><stop offset="0.6250" stop-color="#27ad81"/><stop offset="0.6562" stop-color="#31b57b"/><stop offset="0.6875" stop-color="#3dbc74"/><stop offset="0.7188" stop-color="#4cc26c"/><stop offset="0.7500" stop-color="#5cc863"/><stop offset="0.7812" stop-color="#6ece58"/><stop offset="0.8125" stop-color="#81d34d"/><stop offset="0.8438" stop-color="#95d840"/><stop offset="0.8750" stop-color="#aadc32"/><stop offset="0.9062" stop-color="#c0df25"/><stop offset="0.9375" stop-color="#d5e21a"/><stop offset="0.9688" stop-color="#eae51a"/><stop offset="1.0000" stop-color="#fde725"/></linearGradient><clipPath id="axclip"><rect x="108.00" y="60.00" width="648.00" height="360.00"/></clipPath></defs>
<rect x="797.50" y="60.50" width="18.00" height="360.00" fill="url(#cbg)"/>
<rect x="797.50" y="60.50" width="18.00" height="360.00" fill="none" stroke="#000" stroke-width="1.11"/>
<path d="M815.50 420.50H820.36M815.50 360.50H820.36M815.50 300.50H820.36M815.50 240.50H820.36M815.50 180.50H820.36M815.50 120.50H820.36M815.50 60.50H820.36" stroke="#000" stroke-width="1.11" fill="none"/>
<text x="110.42 122.00 131.43 135.74 145.98 155.04 166.00 177.58 187.00 191.42 195.60 206.00 215.98 225.41 230.08 234.49 239.08 247.91 256.74 265.38 269.97 278.39 288.87 296.34 301.01 305.42 310.01 318.84 327.67 336.50 345.04 350.33 359.16 367.70 372.99 381.82 390.07 399.12 407.95 416.73 421.45 430.28 439.06 443.78 452.61 461.26 465.57 470.68 475.27 484.09 492.92 501.75 510.29 515.58 524.41 532.96 538.25 547.07 555.33 564.38 573.20 581.99 586.71 595.53 604.32 609.04 617.86 626.51 631.19 635.60 640.19 649.02 657.84 666.67 675.50 684.15 688.35 695.82 704.49 713.63 726.68 735.34 744.49 749.21" y="51.67" font-size="14.60" >ME.DAGME..HNE | 200.0Hz | 2024-01-01T00:00:00 - 2025-12-13T22:30:00 | 31471 segments</text>
<text x="399.02 407.78 416.53 422.11 425.85 434.50 443.14 448.05 452.75 460.69" y="460.28" font-size="14.60" >Period [s]</text>
<g transform="translate(859.40 253.06) rotate(-90)"><text x="-0.51 4.33 18.08" y="0.00" font-size="14.60" >[%]</text></g>
<text x="94.57 103.22 107.81 116.63" y="440.72" font-size="14.60" >0.01</text>
<text x="251.31 259.96 264.55" y="440.72" font-size="14.60" >0.1</text>
<text x="409.63" y="440.72" font-size="14.60" >1</text>
<text x="557.62 566.45" y="440.72" font-size="14.60" >10</text>
<text x="705.62 714.45 723.27" y="440.72" font-size="14.60" >100</text>
<text x="60.79 71.22 80.04 88.87" y="425.50" font-size="14.60" >−200</text>
<text x="60.54 70.97 79.79 88.62" y="377.50" font-size="14.60" >−180</text>
<text x="60.54 70.97 79.79 88.62" y="329.50" font-size="14.60" >−160</text>
<text x="60.66 71.09 79.92 88.75" y="281.50" font-size="14.60" >−140</text>
<text x="60.66 71.09 79.92 88.75" y="233.50" font-size="14.60" >−120</text>
<text x="60.66 71.09 79.92 88.75" y="185.50" font-size="14.60" >−100</text>
<text x="69.41 79.84 88.67" y="137.50" font-size="14.60" >−80</text>
<text x="69.41 79.84 88.67" y="89.50" font-size="14.60" >−60</text>
<text x="825.17" y="425.50" font-size="14.60" >0</text>
<text x="825.01" y="365.50" font-size="14.60" >5</text>
<text x="824.55 833.38" y="305.50" font-size="14.60" >10</text>
<text x="824.55 833.38" y="245.50" font-size="14.60" >15</text>
<text x="825.06 833.89" y="185.50" font-size="14.60" >20</text>
<text x="825.06 833.89" y="125.50" font-size="14.60" >25</text>
<text x="825.02 833.85" y="65.50" font-size="14.60" >30</text>
<g transform="translate(112.34 546.00) rotate(-30)"><text x="-0.66 8.17 17.00 25.82 34.37 39.66 48.49" y="0.00" font-size="14.60" >2024-01</text></g>
<g transform="translate(185.55 545.94) rotate(-30)"><text x="-0.66 8.17 17.00 25.82 34.37 39.66 48.49" y="0.00" font-size="14.60" >2024-04</text></g>
<g transform="translate(258.64 545.94) rotate(-30)"><text x="-0.66 8.17 17.00 25.82 34.37 39.66 48.49" y="0.00" font-size="14.60" >2024-07</text></g>
<g transform="translate(332.44 546.00) rotate(-30)"><text x="-0.66 8.17 17.00 25.82 34.37 39.66 48.49" y="0.00" font-size="14.60" >2024-10</text></g>
<g transform="translate(406.34 546.00) rotate(-30)"><text x="-0.66 8.17 17.00 25.82 34.37 39.66 48.49" y="0.00" font-size="14.60" >2025-01</text></g>
<g transform="translate(478.74 545.94) rotate(-30)"><text x="-0.66 8.17 17.00 25.82 34.37 39.66 48.49" y="0.00" font-size="14.60" >2025-04</text></g>
<g transform="translate(551.83 545.94) rotate(-30)"><text x="-0.66 8.17 17.00 25.82 34.37 39.66 48.49" y="0.00" font-size="14.60" >2025-07</text></g>
<g transform="translate(625.62 546.00) rotate(-30)"><text x="-0.66 8.17 17.00 25.82 34.37 39.66 48.49" y="0.00" font-size="14.60" >2025-10</text></g>
<g transform="translate(699.42 546.06) rotate(-30)"><text x="-0.66 8.17 17.00 25.82 34.37 39.66 48.49" y="0.00" font-size="14.60" >2026-01</text></g>
<g transform="translate(47.23 331.41) rotate(-90)"><text x="-0.12" y="0.00" font-size="14.60">A</text><text x="10.18" y="0.00" font-size="14.60">m</text><text x="23.36" y="0.00" font-size="14.60">p</text><text x="32.12" y="0.00" font-size="14.60">l</text><text x="35.98" y="0.00" font-size="14.60">i</text><text x="40.22" y="0.00" font-size="14.60">t</text><text x="45.31" y="0.00" font-size="14.60">u</text><text x="54.11" y="0.00" font-size="14.60">d</text><text x="62.78" y="0.00" font-size="14.60">e</text><text x="71.28" y="0.00" font-size="14.60"> </text><text x="76.19" y="0.00" font-size="14.60">[</text><text x="81.61" y="0.00" font-size="14.60" font-style="italic">m</text><text x="95.34" y="-5.36" font-size="10.22">2</text><text x="101.97" y="0.00" font-size="14.60">/</text><text x="106.30" y="0.00" font-size="14.60" font-style="italic">s</text><text x="114.46" y="-5.36" font-size="10.22">4</text><text x="121.08" y="0.00" font-size="14.60">/</text><text x="125.15" y="0.00" font-size="14.60" font-style="italic">H</text><text x="135.63" y="0.00" font-size="14.60" font-style="italic">z</text><text x="143.60" y="0.00" font-size="14.60">]</text><text x="148.51" y="0.00" font-size="14.60"> </text><text x="153.42" y="0.00" font-size="14.60">[</text><text x="158.50" y="0.00" font-size="14.60">d</text><text x="166.85" y="0.00" font-size="14.60">B</text><text x="177.16" y="0.00" font-size="14.60">]</text></g>
<rect x="163.70" y="474.00" width="572.20" height="9.60" fill="#008000"/><rect x="163.70" y="483.60" width="572.20" height="14.40" fill="#0000ff"/><rect x="212.80" y="474.00" width="3.30" height="24.00" fill="#fff"/><rect x="355.00" y="474.00" width="1.00" height="24.00" fill="#fff"/><rect x="483.60" y="474.00" width="1.20" height="24.00" fill="#fff"/><rect x="537.00" y="474.00" width="5.00" height="24.00" fill="#fff"/><rect x="597.80" y="474.00" width="1.20" height="24.00" fill="#fff"/><rect x="666.80" y="474.00" width="3.00" height="24.00" fill="#fff"/><rect x="671.00" y="474.00" width="8.00" height="24.00" fill="#fff"/><rect x="716.90" y="474.00" width="1.20" height="24.00" fill="#fff"/><rect x="722.60" y="474.00" width="1.30" height="24.00" fill="#fff"/><rect x="728.50" y="474.00" width="1.30" height="24.00" fill="#fff"/><rect x="733.90" y="474.00" width="1.10" height="24.00" fill="#fff"/><rect x="278.00" y="483.60" width="1.00" height="14.40" fill="#fff"/><rect x="327.00" y="483.60" width="1.00" height="14.40" fill="#fff"/><rect x="477.60" y="483.60" width="1.20" height="14.40" fill="#fff"/><rect x="625.00" y="483.60" width="1.20" height="14.40" fill="#fff"/>
<rect x="135.50" y="474.50" width="630.00" height="24.00" fill="none" stroke="#000" stroke-width="1.11"/>
<path d="M164.50 498.50V503.36M237.50 498.50V503.36M310.50 498.50V503.36M384.50 498.50V503.36M458.50 498.50V503.36M530.50 498.50V503.36M603.50 498.50V503.36M677.50 498.50V503.36M751.50 498.50V503.36" stroke="#000" stroke-width="1.11" fill="none"/>
<rect x="0" y="577" width="900" height="23" fill="#808080"/>
<text x="7.92 19.18 27.85 36.51 45.26 50.74 59.74 64.70 73.37 82.01 86.59 95.51 103.44 107.21 116.69 125.23 133.90 141.68 150.26 159.61 170.39 174.81 183.46 192.09 196.68 205.50 214.33 223.16 231.70 236.99 245.82 254.37 259.66 268.48 277.13 281.81 286.22 290.03 300.33 308.95 312.66 320.46 329.22 332.97 341.97 347.02 350.76 359.40 367.82 375.26 379.83 388.63 397.44 406.10 415.10 420.06 428.73 437.37 441.79 450.43 459.06 463.65 472.48 481.30 490.13 498.68 503.97 512.79 521.34 526.63 535.46" y="595.00" font-size="14.60" style="fill:#fff">Generated by SeedPSD on 2025-12-15 | Calculations updated on 2025-12-14</text>
</svg></body></html>
